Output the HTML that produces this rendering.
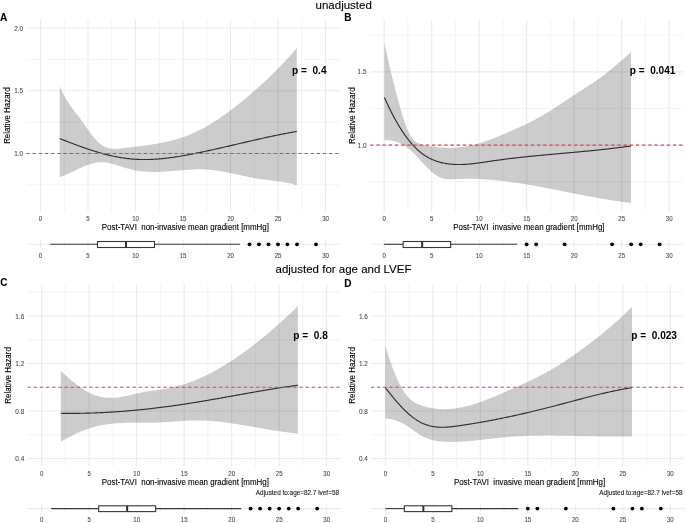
<!DOCTYPE html>
<html><head><meta charset="utf-8"><style>
html,body{margin:0;padding:0;background:#fff;overflow:hidden;}
svg{display:block;filter:blur(0.45px);}
text{font-family:"Liberation Sans", sans-serif;stroke-width:0.1px;}
</style></head><body>
<svg width="685" height="523" viewBox="0 0 685 523">
<rect width="685" height="523" fill="#fff"/>
<text x="343.70" y="8.60" font-size="11.5" fill="#000" stroke="#000" text-anchor="middle">unadjusted</text>
<text x="343.50" y="273.10" font-size="11.5" fill="#000" stroke="#000" text-anchor="middle">adjusted for age and LVEF</text>
<clipPath id="cA"><rect x="26.40" y="19.50" width="313.60" height="192.30"/></clipPath>
<g clip-path="url(#cA)"><line x1="26.40" x2="340.00" y1="184.80" y2="184.80" stroke="#ebebeb" stroke-width="0.60"/><line x1="26.40" x2="340.00" y1="122.10" y2="122.10" stroke="#ebebeb" stroke-width="0.60"/><line x1="26.40" x2="340.00" y1="59.40" y2="59.40" stroke="#ebebeb" stroke-width="0.60"/><line x1="64.25" x2="64.25" y1="19.50" y2="211.80" stroke="#ebebeb" stroke-width="0.60"/><line x1="111.75" x2="111.75" y1="19.50" y2="211.80" stroke="#ebebeb" stroke-width="0.60"/><line x1="159.25" x2="159.25" y1="19.50" y2="211.80" stroke="#ebebeb" stroke-width="0.60"/><line x1="206.75" x2="206.75" y1="19.50" y2="211.80" stroke="#ebebeb" stroke-width="0.60"/><line x1="254.25" x2="254.25" y1="19.50" y2="211.80" stroke="#ebebeb" stroke-width="0.60"/><line x1="301.75" x2="301.75" y1="19.50" y2="211.80" stroke="#ebebeb" stroke-width="0.60"/><line x1="26.40" x2="340.00" y1="153.45" y2="153.45" stroke="#ebebeb" stroke-width="1.10"/><line x1="26.40" x2="340.00" y1="90.75" y2="90.75" stroke="#ebebeb" stroke-width="1.10"/><line x1="26.40" x2="340.00" y1="28.05" y2="28.05" stroke="#ebebeb" stroke-width="1.10"/><line x1="40.50" x2="40.50" y1="19.50" y2="211.80" stroke="#ebebeb" stroke-width="1.10"/><line x1="88.00" x2="88.00" y1="19.50" y2="211.80" stroke="#ebebeb" stroke-width="1.10"/><line x1="135.50" x2="135.50" y1="19.50" y2="211.80" stroke="#ebebeb" stroke-width="1.10"/><line x1="183.00" x2="183.00" y1="19.50" y2="211.80" stroke="#ebebeb" stroke-width="1.10"/><line x1="230.50" x2="230.50" y1="19.50" y2="211.80" stroke="#ebebeb" stroke-width="1.10"/><line x1="278.00" x2="278.00" y1="19.50" y2="211.80" stroke="#ebebeb" stroke-width="1.10"/><line x1="325.50" x2="325.50" y1="19.50" y2="211.80" stroke="#ebebeb" stroke-width="1.10"/>
<path d="M59.70,86.29 L60.70,88.54 L61.70,90.69 L62.70,92.72 L63.70,94.67 L64.70,96.52 L65.70,98.29 L66.70,99.98 L67.70,101.60 L68.70,103.16 L69.70,104.67 L70.70,106.12 L71.70,107.54 L72.70,108.91 L73.70,110.26 L74.70,111.58 L75.70,112.89 L76.70,114.19 L77.70,115.49 L78.70,116.80 L79.70,118.11 L80.70,119.45 L81.70,120.80 L82.70,122.18 L83.70,123.58 L84.70,124.99 L85.70,126.40 L86.70,127.82 L87.70,129.23 L88.70,130.62 L89.70,132.00 L90.70,133.35 L91.70,134.68 L92.70,135.97 L93.70,137.22 L94.70,138.42 L95.70,139.57 L96.70,140.67 L97.70,141.70 L98.70,142.65 L99.70,143.54 L100.70,144.34 L101.70,145.06 L102.70,145.71 L103.70,146.29 L104.70,146.79 L105.70,147.24 L106.70,147.62 L107.70,147.94 L108.70,148.21 L109.70,148.43 L110.70,148.60 L111.70,148.73 L112.70,148.81 L113.70,148.86 L114.70,148.88 L115.70,148.87 L116.70,148.83 L117.70,148.76 L118.70,148.68 L119.70,148.58 L120.70,148.47 L121.70,148.35 L122.70,148.23 L123.70,148.10 L124.70,147.97 L125.70,147.85 L126.70,147.73 L127.70,147.60 L128.70,147.48 L129.70,147.36 L130.70,147.24 L131.70,147.12 L132.70,147.00 L133.70,146.88 L134.70,146.76 L135.70,146.64 L136.70,146.52 L137.70,146.40 L138.70,146.28 L139.70,146.15 L140.70,146.03 L141.70,145.90 L142.70,145.77 L143.70,145.64 L144.70,145.51 L145.70,145.38 L146.70,145.24 L147.70,145.10 L148.70,144.96 L149.70,144.82 L150.70,144.67 L151.70,144.52 L152.70,144.37 L153.70,144.21 L154.70,144.05 L155.70,143.88 L156.70,143.71 L157.70,143.54 L158.70,143.36 L159.70,143.18 L160.70,142.99 L161.70,142.80 L162.70,142.60 L163.70,142.40 L164.70,142.19 L165.70,141.97 L166.70,141.75 L167.70,141.53 L168.70,141.29 L169.70,141.06 L170.70,140.81 L171.70,140.56 L172.70,140.30 L173.70,140.03 L174.70,139.76 L175.70,139.48 L176.70,139.19 L177.70,138.89 L178.70,138.58 L179.70,138.27 L180.70,137.95 L181.70,137.62 L182.70,137.28 L183.70,136.93 L184.70,136.57 L185.70,136.21 L186.70,135.83 L187.70,135.45 L188.70,135.05 L189.70,134.65 L190.70,134.23 L191.70,133.81 L192.70,133.37 L193.70,132.92 L194.70,132.47 L195.70,132.00 L196.70,131.53 L197.70,131.04 L198.70,130.55 L199.70,130.04 L200.70,129.53 L201.70,129.01 L202.70,128.48 L203.70,127.94 L204.70,127.39 L205.70,126.83 L206.70,126.26 L207.70,125.68 L208.70,125.10 L209.70,124.51 L210.70,123.90 L211.70,123.29 L212.70,122.68 L213.70,122.05 L214.70,121.41 L215.70,120.77 L216.70,120.12 L217.70,119.46 L218.70,118.80 L219.70,118.13 L220.70,117.45 L221.70,116.76 L222.70,116.06 L223.70,115.36 L224.70,114.65 L225.70,113.94 L226.70,113.21 L227.70,112.48 L228.70,111.75 L229.70,111.00 L230.70,110.25 L231.70,109.50 L232.70,108.74 L233.70,107.97 L234.70,107.19 L235.70,106.41 L236.70,105.62 L237.70,104.83 L238.70,104.03 L239.70,103.23 L240.70,102.42 L241.70,101.61 L242.70,100.79 L243.70,99.96 L244.70,99.13 L245.70,98.30 L246.70,97.46 L247.70,96.61 L248.70,95.76 L249.70,94.91 L250.70,94.05 L251.70,93.18 L252.70,92.31 L253.70,91.44 L254.70,90.56 L255.70,89.68 L256.70,88.79 L257.70,87.90 L258.70,87.00 L259.70,86.10 L260.70,85.19 L261.70,84.28 L262.70,83.36 L263.70,82.44 L264.70,81.51 L265.70,80.57 L266.70,79.63 L267.70,78.68 L268.70,77.73 L269.70,76.77 L270.70,75.80 L271.70,74.83 L272.70,73.85 L273.70,72.86 L274.70,71.87 L275.70,70.87 L276.70,69.87 L277.70,68.86 L278.70,67.84 L279.70,66.81 L280.70,65.78 L281.70,64.74 L282.70,63.69 L283.70,62.63 L284.70,61.57 L285.70,60.50 L286.70,59.42 L287.70,58.34 L288.70,57.24 L289.70,56.14 L290.70,55.03 L291.70,53.91 L292.70,52.79 L293.70,51.65 L294.70,50.51 L295.70,49.36 L296.70,48.20 L296.80,48.08 L296.80,185.31 L296.70,185.27 L295.70,184.96 L294.70,184.65 L293.70,184.37 L292.70,184.09 L291.70,183.84 L290.70,183.59 L289.70,183.36 L288.70,183.13 L287.70,182.92 L286.70,182.72 L285.70,182.53 L284.70,182.35 L283.70,182.18 L282.70,182.02 L281.70,181.86 L280.70,181.71 L279.70,181.57 L278.70,181.43 L277.70,181.30 L276.70,181.17 L275.70,181.04 L274.70,180.92 L273.70,180.80 L272.70,180.68 L271.70,180.57 L270.70,180.45 L269.70,180.33 L268.70,180.22 L267.70,180.10 L266.70,179.98 L265.70,179.85 L264.70,179.73 L263.70,179.60 L262.70,179.46 L261.70,179.32 L260.70,179.17 L259.70,179.02 L258.70,178.86 L257.70,178.70 L256.70,178.53 L255.70,178.35 L254.70,178.17 L253.70,177.98 L252.70,177.79 L251.70,177.60 L250.70,177.40 L249.70,177.20 L248.70,176.99 L247.70,176.79 L246.70,176.57 L245.70,176.36 L244.70,176.15 L243.70,175.93 L242.70,175.71 L241.70,175.49 L240.70,175.27 L239.70,175.05 L238.70,174.83 L237.70,174.61 L236.70,174.39 L235.70,174.17 L234.70,173.95 L233.70,173.74 L232.70,173.52 L231.70,173.31 L230.70,173.10 L229.70,172.89 L228.70,172.68 L227.70,172.48 L226.70,172.28 L225.70,172.09 L224.70,171.90 L223.70,171.71 L222.70,171.53 L221.70,171.35 L220.70,171.18 L219.70,171.01 L218.70,170.86 L217.70,170.70 L216.70,170.56 L215.70,170.42 L214.70,170.28 L213.70,170.16 L212.70,170.04 L211.70,169.93 L210.70,169.83 L209.70,169.74 L208.70,169.66 L207.70,169.59 L206.70,169.52 L205.70,169.47 L204.70,169.43 L203.70,169.39 L202.70,169.36 L201.70,169.34 L200.70,169.33 L199.70,169.33 L198.70,169.33 L197.70,169.35 L196.70,169.36 L195.70,169.39 L194.70,169.42 L193.70,169.45 L192.70,169.50 L191.70,169.54 L190.70,169.59 L189.70,169.65 L188.70,169.71 L187.70,169.77 L186.70,169.84 L185.70,169.91 L184.70,169.98 L183.70,170.06 L182.70,170.14 L181.70,170.22 L180.70,170.30 L179.70,170.38 L178.70,170.47 L177.70,170.55 L176.70,170.64 L175.70,170.72 L174.70,170.81 L173.70,170.89 L172.70,170.97 L171.70,171.05 L170.70,171.13 L169.70,171.21 L168.70,171.29 L167.70,171.36 L166.70,171.43 L165.70,171.50 L164.70,171.56 L163.70,171.62 L162.70,171.68 L161.70,171.73 L160.70,171.77 L159.70,171.81 L158.70,171.85 L157.70,171.88 L156.70,171.90 L155.70,171.92 L154.70,171.93 L153.70,171.93 L152.70,171.93 L151.70,171.92 L150.70,171.90 L149.70,171.87 L148.70,171.84 L147.70,171.79 L146.70,171.74 L145.70,171.67 L144.70,171.60 L143.70,171.51 L142.70,171.42 L141.70,171.31 L140.70,171.19 L139.70,171.07 L138.70,170.93 L137.70,170.77 L136.70,170.61 L135.70,170.43 L134.70,170.24 L133.70,170.04 L132.70,169.82 L131.70,169.59 L130.70,169.35 L129.70,169.10 L128.70,168.84 L127.70,168.57 L126.70,168.29 L125.70,168.00 L124.70,167.71 L123.70,167.41 L122.70,167.10 L121.70,166.79 L120.70,166.47 L119.70,166.14 L118.70,165.82 L117.70,165.49 L116.70,165.16 L115.70,164.84 L114.70,164.53 L113.70,164.22 L112.70,163.93 L111.70,163.66 L110.70,163.40 L109.70,163.17 L108.70,162.95 L107.70,162.76 L106.70,162.60 L105.70,162.46 L104.70,162.35 L103.70,162.27 L102.70,162.22 L101.70,162.20 L100.70,162.21 L99.70,162.25 L98.70,162.33 L97.70,162.44 L96.70,162.58 L95.70,162.75 L94.70,162.94 L93.70,163.17 L92.70,163.42 L91.70,163.69 L90.70,163.98 L89.70,164.30 L88.70,164.63 L87.70,164.99 L86.70,165.36 L85.70,165.75 L84.70,166.15 L83.70,166.57 L82.70,167.00 L81.70,167.44 L80.70,167.88 L79.70,168.34 L78.70,168.80 L77.70,169.27 L76.70,169.74 L75.70,170.22 L74.70,170.69 L73.70,171.17 L72.70,171.64 L71.70,172.12 L70.70,172.58 L69.70,173.05 L68.70,173.50 L67.70,173.95 L66.70,174.39 L65.70,174.82 L64.70,175.23 L63.70,175.64 L62.70,176.03 L61.70,176.40 L60.70,176.75 L59.70,177.09 Z" fill="#000" fill-opacity="0.2" stroke="none"/>
<path d="M59.70,138.52 L60.70,138.92 L61.70,139.32 L62.70,139.71 L63.70,140.11 L64.70,140.50 L65.70,140.89 L66.70,141.28 L67.70,141.67 L68.70,142.05 L69.70,142.44 L70.70,142.82 L71.70,143.21 L72.70,143.58 L73.70,143.96 L74.70,144.34 L75.70,144.71 L76.70,145.08 L77.70,145.45 L78.70,145.82 L79.70,146.18 L80.70,146.54 L81.70,146.90 L82.70,147.25 L83.70,147.60 L84.70,147.95 L85.70,148.30 L86.70,148.64 L87.70,148.98 L88.70,149.31 L89.70,149.64 L90.70,149.97 L91.70,150.29 L92.70,150.61 L93.70,150.93 L94.70,151.24 L95.70,151.55 L96.70,151.85 L97.70,152.15 L98.70,152.44 L99.70,152.73 L100.70,153.02 L101.70,153.30 L102.70,153.57 L103.70,153.84 L104.70,154.11 L105.70,154.37 L106.70,154.62 L107.70,154.87 L108.70,155.11 L109.70,155.35 L110.70,155.59 L111.70,155.81 L112.70,156.03 L113.70,156.25 L114.70,156.46 L115.70,156.66 L116.70,156.86 L117.70,157.05 L118.70,157.23 L119.70,157.41 L120.70,157.58 L121.70,157.74 L122.70,157.90 L123.70,158.05 L124.70,158.19 L125.70,158.33 L126.70,158.46 L127.70,158.58 L128.70,158.69 L129.70,158.80 L130.70,158.90 L131.70,158.99 L132.70,159.07 L133.70,159.15 L134.70,159.22 L135.70,159.28 L136.70,159.34 L137.70,159.38 L138.70,159.43 L139.70,159.46 L140.70,159.49 L141.70,159.51 L142.70,159.52 L143.70,159.53 L144.70,159.53 L145.70,159.53 L146.70,159.52 L147.70,159.50 L148.70,159.48 L149.70,159.45 L150.70,159.41 L151.70,159.37 L152.70,159.32 L153.70,159.27 L154.70,159.22 L155.70,159.15 L156.70,159.09 L157.70,159.01 L158.70,158.94 L159.70,158.85 L160.70,158.76 L161.70,158.67 L162.70,158.58 L163.70,158.47 L164.70,158.37 L165.70,158.26 L166.70,158.14 L167.70,158.02 L168.70,157.90 L169.70,157.77 L170.70,157.64 L171.70,157.50 L172.70,157.37 L173.70,157.22 L174.70,157.08 L175.70,156.93 L176.70,156.77 L177.70,156.62 L178.70,156.46 L179.70,156.29 L180.70,156.13 L181.70,155.96 L182.70,155.79 L183.70,155.61 L184.70,155.44 L185.70,155.26 L186.70,155.07 L187.70,154.89 L188.70,154.70 L189.70,154.51 L190.70,154.32 L191.70,154.13 L192.70,153.93 L193.70,153.74 L194.70,153.54 L195.70,153.34 L196.70,153.14 L197.70,152.93 L198.70,152.73 L199.70,152.52 L200.70,152.32 L201.70,152.11 L202.70,151.90 L203.70,151.69 L204.70,151.47 L205.70,151.26 L206.70,151.04 L207.70,150.83 L208.70,150.61 L209.70,150.39 L210.70,150.17 L211.70,149.95 L212.70,149.73 L213.70,149.51 L214.70,149.29 L215.70,149.06 L216.70,148.84 L217.70,148.61 L218.70,148.38 L219.70,148.16 L220.70,147.93 L221.70,147.70 L222.70,147.47 L223.70,147.24 L224.70,147.01 L225.70,146.78 L226.70,146.55 L227.70,146.32 L228.70,146.09 L229.70,145.86 L230.70,145.63 L231.70,145.39 L232.70,145.16 L233.70,144.93 L234.70,144.69 L235.70,144.46 L236.70,144.23 L237.70,143.99 L238.70,143.76 L239.70,143.53 L240.70,143.29 L241.70,143.06 L242.70,142.83 L243.70,142.59 L244.70,142.36 L245.70,142.13 L246.70,141.90 L247.70,141.67 L248.70,141.43 L249.70,141.20 L250.70,140.97 L251.70,140.74 L252.70,140.51 L253.70,140.28 L254.70,140.05 L255.70,139.83 L256.70,139.60 L257.70,139.37 L258.70,139.15 L259.70,138.92 L260.70,138.70 L261.70,138.47 L262.70,138.25 L263.70,138.03 L264.70,137.81 L265.70,137.59 L266.70,137.37 L267.70,137.15 L268.70,136.93 L269.70,136.72 L270.70,136.50 L271.70,136.29 L272.70,136.08 L273.70,135.87 L274.70,135.66 L275.70,135.45 L276.70,135.24 L277.70,135.04 L278.70,134.83 L279.70,134.63 L280.70,134.43 L281.70,134.23 L282.70,134.03 L283.70,133.83 L284.70,133.64 L285.70,133.45 L286.70,133.25 L287.70,133.06 L288.70,132.88 L289.70,132.69 L290.70,132.51 L291.70,132.33 L292.70,132.14 L293.70,131.97 L294.70,131.79 L295.70,131.62 L296.70,131.44 L296.80,131.43" fill="none" stroke="#2e2e2e" stroke-width="1.15" stroke-linejoin="round"/>
<line x1="26.40" x2="340.00" y1="153.45" y2="153.45" stroke="#f23a46" stroke-width="1.1" stroke-dasharray="3.2 2.98" stroke-dashoffset="0.00"/>
</g>
<text transform="translate(23.20,156.10) scale(0.920,1.070)" font-size="7.00" fill="#4d4d4d" stroke="#4d4d4d" text-anchor="end">1.0</text>
<text transform="translate(23.20,93.40) scale(0.920,1.070)" font-size="7.00" fill="#4d4d4d" stroke="#4d4d4d" text-anchor="end">1.5</text>
<text transform="translate(23.20,30.70) scale(0.920,1.070)" font-size="7.00" fill="#4d4d4d" stroke="#4d4d4d" text-anchor="end">2.0</text>
<text transform="translate(40.50,221.10) scale(0.870,1.070)" font-size="7.00" fill="#4d4d4d" stroke="#4d4d4d" text-anchor="middle">0</text>
<text transform="translate(88.00,221.10) scale(0.870,1.070)" font-size="7.00" fill="#4d4d4d" stroke="#4d4d4d" text-anchor="middle">5</text>
<text transform="translate(135.50,221.10) scale(0.870,1.070)" font-size="7.00" fill="#4d4d4d" stroke="#4d4d4d" text-anchor="middle">10</text>
<text transform="translate(183.00,221.10) scale(0.870,1.070)" font-size="7.00" fill="#4d4d4d" stroke="#4d4d4d" text-anchor="middle">15</text>
<text transform="translate(230.50,221.10) scale(0.870,1.070)" font-size="7.00" fill="#4d4d4d" stroke="#4d4d4d" text-anchor="middle">20</text>
<text transform="translate(278.00,221.10) scale(0.870,1.070)" font-size="7.00" fill="#4d4d4d" stroke="#4d4d4d" text-anchor="middle">25</text>
<text transform="translate(325.50,221.10) scale(0.870,1.070)" font-size="7.00" fill="#4d4d4d" stroke="#4d4d4d" text-anchor="middle">30</text>
<text transform="translate(101.80,230.40) scale(0.995,1.080)" font-size="8.00" fill="#000" stroke="#000" text-anchor="start" style="white-space:pre">Post-TAVI  non-invasive mean gradient [mmHg]</text>
<text transform="translate(10.30,115.60) rotate(-90) scale(1.020,1.120)" font-size="7.80" fill="#000" stroke="#000" text-anchor="middle">Relative Hazard</text>
<text transform="translate(309.30,74.40) scale(1.050,1.080)" font-size="9.60" fill="#000" stroke="none" text-anchor="middle" font-weight="bold" style="white-space:pre">p =  0.4</text>
<text x="0.00" y="20.70" font-size="10" font-weight="bold" fill="#000" stroke="#000">A</text>
<g><line x1="26.40" x2="340.00" y1="244.30" y2="244.30" stroke="#ebebeb" stroke-width="1.1"/><line x1="40.50" x2="40.50" y1="239.70" y2="248.60" stroke="#ebebeb" stroke-width="1.10"/><line x1="64.25" x2="64.25" y1="239.70" y2="248.60" stroke="#ebebeb" stroke-width="0.60"/><line x1="88.00" x2="88.00" y1="239.70" y2="248.60" stroke="#ebebeb" stroke-width="1.10"/><line x1="111.75" x2="111.75" y1="239.70" y2="248.60" stroke="#ebebeb" stroke-width="0.60"/><line x1="135.50" x2="135.50" y1="239.70" y2="248.60" stroke="#ebebeb" stroke-width="1.10"/><line x1="159.25" x2="159.25" y1="239.70" y2="248.60" stroke="#ebebeb" stroke-width="0.60"/><line x1="183.00" x2="183.00" y1="239.70" y2="248.60" stroke="#ebebeb" stroke-width="1.10"/><line x1="206.75" x2="206.75" y1="239.70" y2="248.60" stroke="#ebebeb" stroke-width="0.60"/><line x1="230.50" x2="230.50" y1="239.70" y2="248.60" stroke="#ebebeb" stroke-width="1.10"/><line x1="254.25" x2="254.25" y1="239.70" y2="248.60" stroke="#ebebeb" stroke-width="0.60"/><line x1="278.00" x2="278.00" y1="239.70" y2="248.60" stroke="#ebebeb" stroke-width="1.10"/><line x1="301.75" x2="301.75" y1="239.70" y2="248.60" stroke="#ebebeb" stroke-width="0.60"/><line x1="325.50" x2="325.50" y1="239.70" y2="248.60" stroke="#ebebeb" stroke-width="1.10"/></g>
<line x1="50.00" x2="97.50" y1="244.30" y2="244.30" stroke="#383838" stroke-width="1.1"/>
<line x1="154.50" x2="240.00" y1="244.30" y2="244.30" stroke="#383838" stroke-width="1.1"/>
<rect x="97.50" y="241.50" width="57.00" height="6.00" fill="#fff" stroke="#383838" stroke-width="1.1"/>
<line x1="126.00" x2="126.00" y1="241.50" y2="247.50" stroke="#333" stroke-width="2"/>
<circle cx="249.50" cy="244.30" r="1.9" fill="#000"/>
<circle cx="259.00" cy="244.30" r="1.9" fill="#000"/>
<circle cx="268.50" cy="244.30" r="1.9" fill="#000"/>
<circle cx="278.00" cy="244.30" r="1.9" fill="#000"/>
<circle cx="287.50" cy="244.30" r="1.9" fill="#000"/>
<circle cx="297.00" cy="244.30" r="1.9" fill="#000"/>
<circle cx="316.00" cy="244.30" r="1.9" fill="#000"/>
<text transform="translate(40.50,257.80) scale(0.870,1.070)" font-size="7.00" fill="#4d4d4d" stroke="#4d4d4d" text-anchor="middle">0</text>
<text transform="translate(88.00,257.80) scale(0.870,1.070)" font-size="7.00" fill="#4d4d4d" stroke="#4d4d4d" text-anchor="middle">5</text>
<text transform="translate(135.50,257.80) scale(0.870,1.070)" font-size="7.00" fill="#4d4d4d" stroke="#4d4d4d" text-anchor="middle">10</text>
<text transform="translate(183.00,257.80) scale(0.870,1.070)" font-size="7.00" fill="#4d4d4d" stroke="#4d4d4d" text-anchor="middle">15</text>
<text transform="translate(230.50,257.80) scale(0.870,1.070)" font-size="7.00" fill="#4d4d4d" stroke="#4d4d4d" text-anchor="middle">20</text>
<text transform="translate(278.00,257.80) scale(0.870,1.070)" font-size="7.00" fill="#4d4d4d" stroke="#4d4d4d" text-anchor="middle">25</text>
<text transform="translate(325.50,257.80) scale(0.870,1.070)" font-size="7.00" fill="#4d4d4d" stroke="#4d4d4d" text-anchor="middle">30</text>
<clipPath id="cB"><rect x="370.20" y="19.60" width="313.40" height="192.30"/></clipPath>
<g clip-path="url(#cB)"><line x1="370.20" x2="683.60" y1="181.78" y2="181.78" stroke="#ebebeb" stroke-width="0.60"/><line x1="370.20" x2="683.60" y1="108.48" y2="108.48" stroke="#ebebeb" stroke-width="0.60"/><line x1="370.20" x2="683.60" y1="35.18" y2="35.18" stroke="#ebebeb" stroke-width="0.60"/><line x1="407.90" x2="407.90" y1="19.60" y2="211.90" stroke="#ebebeb" stroke-width="0.60"/><line x1="455.40" x2="455.40" y1="19.60" y2="211.90" stroke="#ebebeb" stroke-width="0.60"/><line x1="502.90" x2="502.90" y1="19.60" y2="211.90" stroke="#ebebeb" stroke-width="0.60"/><line x1="550.40" x2="550.40" y1="19.60" y2="211.90" stroke="#ebebeb" stroke-width="0.60"/><line x1="597.90" x2="597.90" y1="19.60" y2="211.90" stroke="#ebebeb" stroke-width="0.60"/><line x1="645.40" x2="645.40" y1="19.60" y2="211.90" stroke="#ebebeb" stroke-width="0.60"/><line x1="370.20" x2="683.60" y1="145.13" y2="145.13" stroke="#ebebeb" stroke-width="1.10"/><line x1="370.20" x2="683.60" y1="71.83" y2="71.83" stroke="#ebebeb" stroke-width="1.10"/><line x1="384.15" x2="384.15" y1="19.60" y2="211.90" stroke="#ebebeb" stroke-width="1.10"/><line x1="431.65" x2="431.65" y1="19.60" y2="211.90" stroke="#ebebeb" stroke-width="1.10"/><line x1="479.15" x2="479.15" y1="19.60" y2="211.90" stroke="#ebebeb" stroke-width="1.10"/><line x1="526.65" x2="526.65" y1="19.60" y2="211.90" stroke="#ebebeb" stroke-width="1.10"/><line x1="574.15" x2="574.15" y1="19.60" y2="211.90" stroke="#ebebeb" stroke-width="1.10"/><line x1="621.65" x2="621.65" y1="19.60" y2="211.90" stroke="#ebebeb" stroke-width="1.10"/><line x1="669.15" x2="669.15" y1="19.60" y2="211.90" stroke="#ebebeb" stroke-width="1.10"/>
<path d="M384.40,42.50 L385.40,47.32 L386.40,52.01 L387.40,56.59 L388.40,61.06 L389.40,65.43 L390.40,69.71 L391.40,73.90 L392.40,78.01 L393.40,82.06 L394.40,86.03 L395.40,89.93 L396.40,93.76 L397.40,97.51 L398.40,101.19 L399.40,104.80 L400.40,108.33 L401.40,111.79 L402.40,115.13 L403.40,118.36 L404.40,121.44 L405.40,124.35 L406.40,127.08 L407.40,129.59 L408.40,131.86 L409.40,133.89 L410.40,135.66 L411.40,137.20 L412.40,138.54 L413.40,139.68 L414.40,140.64 L415.40,141.46 L416.40,142.14 L417.40,142.70 L418.40,143.16 L419.40,143.55 L420.40,143.87 L421.40,144.16 L422.40,144.43 L423.40,144.68 L424.40,144.93 L425.40,145.16 L426.40,145.39 L427.40,145.61 L428.40,145.81 L429.40,146.01 L430.40,146.20 L431.40,146.37 L432.40,146.54 L433.40,146.70 L434.40,146.85 L435.40,146.99 L436.40,147.11 L437.40,147.23 L438.40,147.34 L439.40,147.44 L440.40,147.53 L441.40,147.61 L442.40,147.68 L443.40,147.74 L444.40,147.79 L445.40,147.83 L446.40,147.86 L447.40,147.88 L448.40,147.88 L449.40,147.88 L450.40,147.87 L451.40,147.85 L452.40,147.83 L453.40,147.79 L454.40,147.74 L455.40,147.68 L456.40,147.61 L457.40,147.53 L458.40,147.44 L459.40,147.34 L460.40,147.23 L461.40,147.11 L462.40,146.98 L463.40,146.84 L464.40,146.69 L465.40,146.53 L466.40,146.36 L467.40,146.18 L468.40,145.99 L469.40,145.79 L470.40,145.58 L471.40,145.36 L472.40,145.13 L473.40,144.89 L474.40,144.63 L475.40,144.37 L476.40,144.10 L477.40,143.82 L478.40,143.54 L479.40,143.24 L480.40,142.93 L481.40,142.62 L482.40,142.30 L483.40,141.97 L484.40,141.63 L485.40,141.29 L486.40,140.94 L487.40,140.58 L488.40,140.22 L489.40,139.85 L490.40,139.47 L491.40,139.09 L492.40,138.70 L493.40,138.31 L494.40,137.92 L495.40,137.52 L496.40,137.12 L497.40,136.71 L498.40,136.30 L499.40,135.88 L500.40,135.47 L501.40,135.05 L502.40,134.63 L503.40,134.20 L504.40,133.78 L505.40,133.35 L506.40,132.92 L507.40,132.49 L508.40,132.06 L509.40,131.63 L510.40,131.20 L511.40,130.76 L512.40,130.33 L513.40,129.89 L514.40,129.45 L515.40,129.01 L516.40,128.56 L517.40,128.12 L518.40,127.67 L519.40,127.21 L520.40,126.75 L521.40,126.29 L522.40,125.83 L523.40,125.36 L524.40,124.89 L525.40,124.42 L526.40,123.94 L527.40,123.45 L528.40,122.96 L529.40,122.47 L530.40,121.97 L531.40,121.46 L532.40,120.95 L533.40,120.43 L534.40,119.91 L535.40,119.38 L536.40,118.85 L537.40,118.31 L538.40,117.76 L539.40,117.20 L540.40,116.64 L541.40,116.07 L542.40,115.49 L543.40,114.91 L544.40,114.32 L545.40,113.72 L546.40,113.11 L547.40,112.50 L548.40,111.88 L549.40,111.26 L550.40,110.63 L551.40,109.99 L552.40,109.35 L553.40,108.71 L554.40,108.06 L555.40,107.41 L556.40,106.76 L557.40,106.10 L558.40,105.44 L559.40,104.78 L560.40,104.12 L561.40,103.46 L562.40,102.80 L563.40,102.13 L564.40,101.47 L565.40,100.80 L566.40,100.14 L567.40,99.48 L568.40,98.82 L569.40,98.16 L570.40,97.51 L571.40,96.85 L572.40,96.20 L573.40,95.56 L574.40,94.91 L575.40,94.27 L576.40,93.63 L577.40,92.99 L578.40,92.35 L579.40,91.71 L580.40,91.07 L581.40,90.43 L582.40,89.79 L583.40,89.15 L584.40,88.51 L585.40,87.86 L586.40,87.21 L587.40,86.56 L588.40,85.91 L589.40,85.25 L590.40,84.59 L591.40,83.92 L592.40,83.25 L593.40,82.58 L594.40,81.90 L595.40,81.21 L596.40,80.51 L597.40,79.81 L598.40,79.10 L599.40,78.39 L600.40,77.66 L601.40,76.93 L602.40,76.19 L603.40,75.44 L604.40,74.67 L605.40,73.90 L606.40,73.12 L607.40,72.34 L608.40,71.54 L609.40,70.73 L610.40,69.92 L611.40,69.10 L612.40,68.27 L613.40,67.44 L614.40,66.60 L615.40,65.75 L616.40,64.90 L617.40,64.05 L618.40,63.18 L619.40,62.32 L620.40,61.45 L621.40,60.58 L622.40,59.70 L623.40,58.82 L624.40,57.94 L625.40,57.06 L626.40,56.18 L627.40,55.29 L628.40,54.40 L629.40,53.52 L630.40,52.63 L631.00,52.10 L631.00,202.82 L630.40,202.75 L629.40,202.64 L628.40,202.53 L627.40,202.41 L626.40,202.29 L625.40,202.17 L624.40,202.05 L623.40,201.92 L622.40,201.79 L621.40,201.66 L620.40,201.53 L619.40,201.39 L618.40,201.26 L617.40,201.11 L616.40,200.97 L615.40,200.83 L614.40,200.68 L613.40,200.53 L612.40,200.38 L611.40,200.23 L610.40,200.07 L609.40,199.92 L608.40,199.76 L607.40,199.60 L606.40,199.43 L605.40,199.27 L604.40,199.10 L603.40,198.94 L602.40,198.77 L601.40,198.60 L600.40,198.43 L599.40,198.25 L598.40,198.08 L597.40,197.90 L596.40,197.72 L595.40,197.54 L594.40,197.36 L593.40,197.18 L592.40,197.00 L591.40,196.82 L590.40,196.63 L589.40,196.44 L588.40,196.26 L587.40,196.07 L586.40,195.88 L585.40,195.69 L584.40,195.50 L583.40,195.31 L582.40,195.11 L581.40,194.92 L580.40,194.73 L579.40,194.53 L578.40,194.34 L577.40,194.14 L576.40,193.95 L575.40,193.75 L574.40,193.55 L573.40,193.35 L572.40,193.16 L571.40,192.96 L570.40,192.76 L569.40,192.56 L568.40,192.36 L567.40,192.16 L566.40,191.97 L565.40,191.77 L564.40,191.57 L563.40,191.37 L562.40,191.17 L561.40,190.97 L560.40,190.77 L559.40,190.57 L558.40,190.37 L557.40,190.18 L556.40,189.98 L555.40,189.78 L554.40,189.58 L553.40,189.39 L552.40,189.19 L551.40,189.00 L550.40,188.80 L549.40,188.61 L548.40,188.41 L547.40,188.22 L546.40,188.03 L545.40,187.84 L544.40,187.65 L543.40,187.46 L542.40,187.27 L541.40,187.08 L540.40,186.89 L539.40,186.71 L538.40,186.52 L537.40,186.34 L536.40,186.16 L535.40,185.98 L534.40,185.80 L533.40,185.62 L532.40,185.44 L531.40,185.27 L530.40,185.09 L529.40,184.92 L528.40,184.75 L527.40,184.58 L526.40,184.41 L525.40,184.24 L524.40,184.08 L523.40,183.91 L522.40,183.75 L521.40,183.59 L520.40,183.43 L519.40,183.28 L518.40,183.12 L517.40,182.97 L516.40,182.82 L515.40,182.67 L514.40,182.53 L513.40,182.38 L512.40,182.24 L511.40,182.10 L510.40,181.97 L509.40,181.83 L508.40,181.70 L507.40,181.57 L506.40,181.44 L505.40,181.32 L504.40,181.19 L503.40,181.07 L502.40,180.96 L501.40,180.84 L500.40,180.73 L499.40,180.62 L498.40,180.51 L497.40,180.41 L496.40,180.31 L495.40,180.21 L494.40,180.11 L493.40,180.02 L492.40,179.93 L491.40,179.85 L490.40,179.76 L489.40,179.68 L488.40,179.61 L487.40,179.53 L486.40,179.46 L485.40,179.40 L484.40,179.33 L483.40,179.27 L482.40,179.22 L481.40,179.16 L480.40,179.11 L479.40,179.07 L478.40,179.03 L477.40,178.99 L476.40,178.95 L475.40,178.92 L474.40,178.89 L473.40,178.87 L472.40,178.85 L471.40,178.83 L470.40,178.82 L469.40,178.81 L468.40,178.81 L467.40,178.81 L466.40,178.81 L465.40,178.82 L464.40,178.84 L463.40,178.85 L462.40,178.87 L461.40,178.90 L460.40,178.93 L459.40,178.96 L458.40,179.00 L457.40,179.04 L456.40,179.09 L455.40,179.14 L454.40,179.19 L453.40,179.23 L452.40,179.26 L451.40,179.28 L450.40,179.28 L449.40,179.26 L448.40,179.21 L447.40,179.14 L446.40,179.04 L445.40,178.90 L444.40,178.72 L443.40,178.50 L442.40,178.24 L441.40,177.93 L440.40,177.56 L439.40,177.13 L438.40,176.65 L437.40,176.10 L436.40,175.49 L435.40,174.83 L434.40,174.10 L433.40,173.33 L432.40,172.51 L431.40,171.65 L430.40,170.75 L429.40,169.81 L428.40,168.85 L427.40,167.85 L426.40,166.83 L425.40,165.79 L424.40,164.73 L423.40,163.66 L422.40,162.58 L421.40,161.49 L420.40,160.40 L419.40,159.32 L418.40,158.24 L417.40,157.16 L416.40,156.11 L415.40,155.06 L414.40,154.04 L413.40,153.04 L412.40,152.06 L411.40,151.12 L410.40,150.21 L409.40,149.33 L408.40,148.50 L407.40,147.71 L406.40,146.96 L405.40,146.26 L404.40,145.61 L403.40,144.99 L402.40,144.42 L401.40,143.89 L400.40,143.39 L399.40,142.94 L398.40,142.53 L397.40,142.15 L396.40,141.82 L395.40,141.52 L394.40,141.25 L393.40,141.02 L392.40,140.83 L391.40,140.67 L390.40,140.54 L389.40,140.45 L388.40,140.38 L387.40,140.35 L386.40,140.35 L385.40,140.37 L384.40,140.43 Z" fill="#000" fill-opacity="0.2" stroke="none"/>
<path d="M384.40,97.56 L385.40,99.78 L386.40,101.97 L387.40,104.11 L388.40,106.21 L389.40,108.27 L390.40,110.29 L391.40,112.27 L392.40,114.21 L393.40,116.11 L394.40,117.97 L395.40,119.78 L396.40,121.56 L397.40,123.30 L398.40,124.99 L399.40,126.65 L400.40,128.26 L401.40,129.84 L402.40,131.37 L403.40,132.87 L404.40,134.32 L405.40,135.74 L406.40,137.11 L407.40,138.45 L408.40,139.74 L409.40,141.00 L410.40,142.21 L411.40,143.39 L412.40,144.53 L413.40,145.62 L414.40,146.68 L415.40,147.70 L416.40,148.67 L417.40,149.61 L418.40,150.51 L419.40,151.38 L420.40,152.20 L421.40,153.00 L422.40,153.75 L423.40,154.47 L424.40,155.16 L425.40,155.82 L426.40,156.44 L427.40,157.04 L428.40,157.60 L429.40,158.14 L430.40,158.64 L431.40,159.12 L432.40,159.58 L433.40,160.00 L434.40,160.41 L435.40,160.79 L436.40,161.14 L437.40,161.47 L438.40,161.78 L439.40,162.08 L440.40,162.35 L441.40,162.60 L442.40,162.83 L443.40,163.05 L444.40,163.25 L445.40,163.43 L446.40,163.60 L447.40,163.75 L448.40,163.89 L449.40,164.02 L450.40,164.13 L451.40,164.22 L452.40,164.30 L453.40,164.37 L454.40,164.43 L455.40,164.48 L456.40,164.51 L457.40,164.53 L458.40,164.54 L459.40,164.54 L460.40,164.53 L461.40,164.51 L462.40,164.48 L463.40,164.44 L464.40,164.40 L465.40,164.34 L466.40,164.28 L467.40,164.20 L468.40,164.12 L469.40,164.04 L470.40,163.94 L471.40,163.84 L472.40,163.74 L473.40,163.63 L474.40,163.51 L475.40,163.39 L476.40,163.26 L477.40,163.13 L478.40,163.00 L479.40,162.86 L480.40,162.72 L481.40,162.58 L482.40,162.44 L483.40,162.29 L484.40,162.14 L485.40,161.99 L486.40,161.84 L487.40,161.69 L488.40,161.54 L489.40,161.39 L490.40,161.24 L491.40,161.09 L492.40,160.94 L493.40,160.80 L494.40,160.65 L495.40,160.51 L496.40,160.37 L497.40,160.23 L498.40,160.09 L499.40,159.96 L500.40,159.82 L501.40,159.69 L502.40,159.56 L503.40,159.42 L504.40,159.30 L505.40,159.17 L506.40,159.04 L507.40,158.92 L508.40,158.79 L509.40,158.67 L510.40,158.55 L511.40,158.43 L512.40,158.31 L513.40,158.19 L514.40,158.07 L515.40,157.96 L516.40,157.84 L517.40,157.73 L518.40,157.62 L519.40,157.50 L520.40,157.39 L521.40,157.28 L522.40,157.18 L523.40,157.07 L524.40,156.96 L525.40,156.86 L526.40,156.75 L527.40,156.65 L528.40,156.54 L529.40,156.44 L530.40,156.34 L531.40,156.24 L532.40,156.14 L533.40,156.04 L534.40,155.94 L535.40,155.84 L536.40,155.74 L537.40,155.65 L538.40,155.55 L539.40,155.45 L540.40,155.36 L541.40,155.26 L542.40,155.17 L543.40,155.08 L544.40,154.98 L545.40,154.89 L546.40,154.80 L547.40,154.70 L548.40,154.61 L549.40,154.52 L550.40,154.43 L551.40,154.34 L552.40,154.25 L553.40,154.16 L554.40,154.07 L555.40,153.98 L556.40,153.89 L557.40,153.80 L558.40,153.71 L559.40,153.62 L560.40,153.53 L561.40,153.44 L562.40,153.35 L563.40,153.26 L564.40,153.17 L565.40,153.08 L566.40,152.99 L567.40,152.90 L568.40,152.81 L569.40,152.72 L570.40,152.63 L571.40,152.54 L572.40,152.45 L573.40,152.36 L574.40,152.27 L575.40,152.18 L576.40,152.09 L577.40,152.00 L578.40,151.90 L579.40,151.81 L580.40,151.72 L581.40,151.63 L582.40,151.53 L583.40,151.44 L584.40,151.34 L585.40,151.25 L586.40,151.15 L587.40,151.06 L588.40,150.96 L589.40,150.86 L590.40,150.76 L591.40,150.67 L592.40,150.57 L593.40,150.47 L594.40,150.37 L595.40,150.26 L596.40,150.16 L597.40,150.06 L598.40,149.95 L599.40,149.85 L600.40,149.74 L601.40,149.64 L602.40,149.53 L603.40,149.42 L604.40,149.31 L605.40,149.20 L606.40,149.09 L607.40,148.98 L608.40,148.87 L609.40,148.75 L610.40,148.64 L611.40,148.52 L612.40,148.40 L613.40,148.28 L614.40,148.16 L615.40,148.04 L616.40,147.92 L617.40,147.80 L618.40,147.67 L619.40,147.55 L620.40,147.42 L621.40,147.29 L622.40,147.16 L623.40,147.03 L624.40,146.90 L625.40,146.76 L626.40,146.63 L627.40,146.49 L628.40,146.35 L629.40,146.21 L630.40,146.07 L631.00,145.98" fill="none" stroke="#2e2e2e" stroke-width="1.15" stroke-linejoin="round"/>
<line x1="370.20" x2="683.60" y1="145.13" y2="145.13" stroke="#f23a46" stroke-width="1.1" stroke-dasharray="3.2 2.98" stroke-dashoffset="0.00"/>
</g>
<text transform="translate(366.50,147.78) scale(0.920,1.070)" font-size="7.00" fill="#4d4d4d" stroke="#4d4d4d" text-anchor="end">1.0</text>
<text transform="translate(366.50,74.48) scale(0.920,1.070)" font-size="7.00" fill="#4d4d4d" stroke="#4d4d4d" text-anchor="end">1.5</text>
<text transform="translate(384.15,221.10) scale(0.870,1.070)" font-size="7.00" fill="#4d4d4d" stroke="#4d4d4d" text-anchor="middle">0</text>
<text transform="translate(431.65,221.10) scale(0.870,1.070)" font-size="7.00" fill="#4d4d4d" stroke="#4d4d4d" text-anchor="middle">5</text>
<text transform="translate(479.15,221.10) scale(0.870,1.070)" font-size="7.00" fill="#4d4d4d" stroke="#4d4d4d" text-anchor="middle">10</text>
<text transform="translate(526.65,221.10) scale(0.870,1.070)" font-size="7.00" fill="#4d4d4d" stroke="#4d4d4d" text-anchor="middle">15</text>
<text transform="translate(574.15,221.10) scale(0.870,1.070)" font-size="7.00" fill="#4d4d4d" stroke="#4d4d4d" text-anchor="middle">20</text>
<text transform="translate(621.65,221.10) scale(0.870,1.070)" font-size="7.00" fill="#4d4d4d" stroke="#4d4d4d" text-anchor="middle">25</text>
<text transform="translate(669.15,221.10) scale(0.870,1.070)" font-size="7.00" fill="#4d4d4d" stroke="#4d4d4d" text-anchor="middle">30</text>
<text transform="translate(453.30,230.40) scale(0.995,1.080)" font-size="8.00" fill="#000" stroke="#000" text-anchor="start" style="white-space:pre">Post-TAVI  invasive mean gradient [mmHg]</text>
<text transform="translate(354.90,115.70) rotate(-90) scale(1.020,1.120)" font-size="7.80" fill="#000" stroke="#000" text-anchor="middle">Relative Hazard</text>
<text transform="translate(652.55,74.40) scale(1.050,1.080)" font-size="9.60" fill="#000" stroke="none" text-anchor="middle" font-weight="bold" style="white-space:pre">p =  0.041</text>
<text x="344.30" y="20.70" font-size="10" font-weight="bold" fill="#000" stroke="#000">B</text>
<g><line x1="370.20" x2="683.60" y1="244.30" y2="244.30" stroke="#ebebeb" stroke-width="1.1"/><line x1="384.15" x2="384.15" y1="239.70" y2="248.60" stroke="#ebebeb" stroke-width="1.10"/><line x1="407.90" x2="407.90" y1="239.70" y2="248.60" stroke="#ebebeb" stroke-width="0.60"/><line x1="431.65" x2="431.65" y1="239.70" y2="248.60" stroke="#ebebeb" stroke-width="1.10"/><line x1="455.40" x2="455.40" y1="239.70" y2="248.60" stroke="#ebebeb" stroke-width="0.60"/><line x1="479.15" x2="479.15" y1="239.70" y2="248.60" stroke="#ebebeb" stroke-width="1.10"/><line x1="502.90" x2="502.90" y1="239.70" y2="248.60" stroke="#ebebeb" stroke-width="0.60"/><line x1="526.65" x2="526.65" y1="239.70" y2="248.60" stroke="#ebebeb" stroke-width="1.10"/><line x1="550.40" x2="550.40" y1="239.70" y2="248.60" stroke="#ebebeb" stroke-width="0.60"/><line x1="574.15" x2="574.15" y1="239.70" y2="248.60" stroke="#ebebeb" stroke-width="1.10"/><line x1="597.90" x2="597.90" y1="239.70" y2="248.60" stroke="#ebebeb" stroke-width="0.60"/><line x1="621.65" x2="621.65" y1="239.70" y2="248.60" stroke="#ebebeb" stroke-width="1.10"/><line x1="645.40" x2="645.40" y1="239.70" y2="248.60" stroke="#ebebeb" stroke-width="0.60"/><line x1="669.15" x2="669.15" y1="239.70" y2="248.60" stroke="#ebebeb" stroke-width="1.10"/></g>
<line x1="384.15" x2="403.15" y1="244.30" y2="244.30" stroke="#383838" stroke-width="1.1"/>
<line x1="450.65" x2="517.15" y1="244.30" y2="244.30" stroke="#383838" stroke-width="1.1"/>
<rect x="403.15" y="241.50" width="47.50" height="6.00" fill="#fff" stroke="#383838" stroke-width="1.1"/>
<line x1="422.15" x2="422.15" y1="241.50" y2="247.50" stroke="#333" stroke-width="2"/>
<circle cx="526.65" cy="244.30" r="1.9" fill="#000"/>
<circle cx="536.15" cy="244.30" r="1.9" fill="#000"/>
<circle cx="564.65" cy="244.30" r="1.9" fill="#000"/>
<circle cx="612.15" cy="244.30" r="1.9" fill="#000"/>
<circle cx="631.15" cy="244.30" r="1.9" fill="#000"/>
<circle cx="640.65" cy="244.30" r="1.9" fill="#000"/>
<circle cx="659.65" cy="244.30" r="1.9" fill="#000"/>
<text transform="translate(384.15,257.80) scale(0.870,1.070)" font-size="7.00" fill="#4d4d4d" stroke="#4d4d4d" text-anchor="middle">0</text>
<text transform="translate(431.65,257.80) scale(0.870,1.070)" font-size="7.00" fill="#4d4d4d" stroke="#4d4d4d" text-anchor="middle">5</text>
<text transform="translate(479.15,257.80) scale(0.870,1.070)" font-size="7.00" fill="#4d4d4d" stroke="#4d4d4d" text-anchor="middle">10</text>
<text transform="translate(526.65,257.80) scale(0.870,1.070)" font-size="7.00" fill="#4d4d4d" stroke="#4d4d4d" text-anchor="middle">15</text>
<text transform="translate(574.15,257.80) scale(0.870,1.070)" font-size="7.00" fill="#4d4d4d" stroke="#4d4d4d" text-anchor="middle">20</text>
<text transform="translate(621.65,257.80) scale(0.870,1.070)" font-size="7.00" fill="#4d4d4d" stroke="#4d4d4d" text-anchor="middle">25</text>
<text transform="translate(669.15,257.80) scale(0.870,1.070)" font-size="7.00" fill="#4d4d4d" stroke="#4d4d4d" text-anchor="middle">30</text>
<clipPath id="cC"><rect x="27.50" y="284.00" width="313.20" height="182.80"/></clipPath>
<g clip-path="url(#cC)"><line x1="27.50" x2="340.70" y1="434.82" y2="434.82" stroke="#ebebeb" stroke-width="0.60"/><line x1="27.50" x2="340.70" y1="387.30" y2="387.30" stroke="#ebebeb" stroke-width="0.60"/><line x1="27.50" x2="340.70" y1="339.78" y2="339.78" stroke="#ebebeb" stroke-width="0.60"/><line x1="27.50" x2="340.70" y1="292.26" y2="292.26" stroke="#ebebeb" stroke-width="0.60"/><line x1="65.40" x2="65.40" y1="284.00" y2="466.80" stroke="#ebebeb" stroke-width="0.60"/><line x1="112.90" x2="112.90" y1="284.00" y2="466.80" stroke="#ebebeb" stroke-width="0.60"/><line x1="160.40" x2="160.40" y1="284.00" y2="466.80" stroke="#ebebeb" stroke-width="0.60"/><line x1="207.90" x2="207.90" y1="284.00" y2="466.80" stroke="#ebebeb" stroke-width="0.60"/><line x1="255.40" x2="255.40" y1="284.00" y2="466.80" stroke="#ebebeb" stroke-width="0.60"/><line x1="302.90" x2="302.90" y1="284.00" y2="466.80" stroke="#ebebeb" stroke-width="0.60"/><line x1="27.50" x2="340.70" y1="458.58" y2="458.58" stroke="#ebebeb" stroke-width="1.10"/><line x1="27.50" x2="340.70" y1="411.06" y2="411.06" stroke="#ebebeb" stroke-width="1.10"/><line x1="27.50" x2="340.70" y1="363.54" y2="363.54" stroke="#ebebeb" stroke-width="1.10"/><line x1="27.50" x2="340.70" y1="316.02" y2="316.02" stroke="#ebebeb" stroke-width="1.10"/><line x1="41.65" x2="41.65" y1="284.00" y2="466.80" stroke="#ebebeb" stroke-width="1.10"/><line x1="89.15" x2="89.15" y1="284.00" y2="466.80" stroke="#ebebeb" stroke-width="1.10"/><line x1="136.65" x2="136.65" y1="284.00" y2="466.80" stroke="#ebebeb" stroke-width="1.10"/><line x1="184.15" x2="184.15" y1="284.00" y2="466.80" stroke="#ebebeb" stroke-width="1.10"/><line x1="231.65" x2="231.65" y1="284.00" y2="466.80" stroke="#ebebeb" stroke-width="1.10"/><line x1="279.15" x2="279.15" y1="284.00" y2="466.80" stroke="#ebebeb" stroke-width="1.10"/><line x1="326.65" x2="326.65" y1="284.00" y2="466.80" stroke="#ebebeb" stroke-width="1.10"/>
<path d="M60.80,371.05 L61.80,371.96 L62.80,372.86 L63.80,373.76 L64.80,374.65 L65.80,375.53 L66.80,376.41 L67.80,377.28 L68.80,378.14 L69.80,378.99 L70.80,379.83 L71.80,380.66 L72.80,381.48 L73.80,382.29 L74.80,383.08 L75.80,383.86 L76.80,384.62 L77.80,385.37 L78.80,386.11 L79.80,386.82 L80.80,387.52 L81.80,388.21 L82.80,388.87 L83.80,389.51 L84.80,390.14 L85.80,390.74 L86.80,391.32 L87.80,391.88 L88.80,392.42 L89.80,392.93 L90.80,393.42 L91.80,393.89 L92.80,394.32 L93.80,394.73 L94.80,395.12 L95.80,395.48 L96.80,395.80 L97.80,396.11 L98.80,396.38 L99.80,396.63 L100.80,396.85 L101.80,397.05 L102.80,397.23 L103.80,397.38 L104.80,397.51 L105.80,397.62 L106.80,397.70 L107.80,397.77 L108.80,397.81 L109.80,397.84 L110.80,397.84 L111.80,397.83 L112.80,397.80 L113.80,397.75 L114.80,397.69 L115.80,397.61 L116.80,397.52 L117.80,397.41 L118.80,397.29 L119.80,397.15 L120.80,397.00 L121.80,396.84 L122.80,396.67 L123.80,396.49 L124.80,396.29 L125.80,396.09 L126.80,395.89 L127.80,395.67 L128.80,395.45 L129.80,395.23 L130.80,395.00 L131.80,394.76 L132.80,394.53 L133.80,394.29 L134.80,394.06 L135.80,393.82 L136.80,393.59 L137.80,393.36 L138.80,393.13 L139.80,392.90 L140.80,392.68 L141.80,392.47 L142.80,392.26 L143.80,392.06 L144.80,391.87 L145.80,391.69 L146.80,391.52 L147.80,391.36 L148.80,391.20 L149.80,391.04 L150.80,390.90 L151.80,390.75 L152.80,390.61 L153.80,390.47 L154.80,390.34 L155.80,390.20 L156.80,390.07 L157.80,389.93 L158.80,389.80 L159.80,389.66 L160.80,389.52 L161.80,389.37 L162.80,389.22 L163.80,389.07 L164.80,388.91 L165.80,388.74 L166.80,388.56 L167.80,388.38 L168.80,388.19 L169.80,387.99 L170.80,387.78 L171.80,387.56 L172.80,387.34 L173.80,387.10 L174.80,386.86 L175.80,386.61 L176.80,386.35 L177.80,386.08 L178.80,385.81 L179.80,385.53 L180.80,385.24 L181.80,384.94 L182.80,384.63 L183.80,384.31 L184.80,383.99 L185.80,383.66 L186.80,383.32 L187.80,382.97 L188.80,382.62 L189.80,382.26 L190.80,381.89 L191.80,381.51 L192.80,381.13 L193.80,380.73 L194.80,380.33 L195.80,379.93 L196.80,379.51 L197.80,379.09 L198.80,378.66 L199.80,378.22 L200.80,377.78 L201.80,377.33 L202.80,376.87 L203.80,376.40 L204.80,375.93 L205.80,375.45 L206.80,374.97 L207.80,374.47 L208.80,373.97 L209.80,373.46 L210.80,372.95 L211.80,372.43 L212.80,371.90 L213.80,371.36 L214.80,370.82 L215.80,370.27 L216.80,369.72 L217.80,369.16 L218.80,368.59 L219.80,368.01 L220.80,367.43 L221.80,366.84 L222.80,366.25 L223.80,365.65 L224.80,365.04 L225.80,364.43 L226.80,363.81 L227.80,363.19 L228.80,362.55 L229.80,361.92 L230.80,361.27 L231.80,360.62 L232.80,359.97 L233.80,359.30 L234.80,358.64 L235.80,357.96 L236.80,357.28 L237.80,356.60 L238.80,355.91 L239.80,355.21 L240.80,354.51 L241.80,353.80 L242.80,353.08 L243.80,352.36 L244.80,351.64 L245.80,350.91 L246.80,350.17 L247.80,349.43 L248.80,348.68 L249.80,347.93 L250.80,347.17 L251.80,346.41 L252.80,345.64 L253.80,344.87 L254.80,344.09 L255.80,343.31 L256.80,342.52 L257.80,341.72 L258.80,340.93 L259.80,340.12 L260.80,339.31 L261.80,338.50 L262.80,337.68 L263.80,336.86 L264.80,336.03 L265.80,335.20 L266.80,334.36 L267.80,333.52 L268.80,332.67 L269.80,331.82 L270.80,330.97 L271.80,330.11 L272.80,329.24 L273.80,328.37 L274.80,327.50 L275.80,326.62 L276.80,325.74 L277.80,324.85 L278.80,323.96 L279.80,323.07 L280.80,322.17 L281.80,321.27 L282.80,320.36 L283.80,319.45 L284.80,318.53 L285.80,317.61 L286.80,316.69 L287.80,315.76 L288.80,314.83 L289.80,313.90 L290.80,312.96 L291.80,312.02 L292.80,311.07 L293.80,310.13 L294.80,309.17 L295.80,308.22 L296.80,307.26 L297.80,306.29 L297.90,306.20 L297.90,433.59 L297.80,433.58 L296.80,433.48 L295.80,433.38 L294.80,433.28 L293.80,433.17 L292.80,433.06 L291.80,432.94 L290.80,432.82 L289.80,432.70 L288.80,432.58 L287.80,432.45 L286.80,432.32 L285.80,432.18 L284.80,432.05 L283.80,431.91 L282.80,431.77 L281.80,431.62 L280.80,431.48 L279.80,431.33 L278.80,431.18 L277.80,431.03 L276.80,430.87 L275.80,430.71 L274.80,430.56 L273.80,430.40 L272.80,430.23 L271.80,430.07 L270.80,429.91 L269.80,429.74 L268.80,429.57 L267.80,429.40 L266.80,429.23 L265.80,429.06 L264.80,428.89 L263.80,428.72 L262.80,428.55 L261.80,428.37 L260.80,428.20 L259.80,428.02 L258.80,427.85 L257.80,427.67 L256.80,427.50 L255.80,427.32 L254.80,427.15 L253.80,426.97 L252.80,426.80 L251.80,426.62 L250.80,426.45 L249.80,426.27 L248.80,426.10 L247.80,425.93 L246.80,425.76 L245.80,425.59 L244.80,425.42 L243.80,425.25 L242.80,425.08 L241.80,424.91 L240.80,424.75 L239.80,424.58 L238.80,424.42 L237.80,424.26 L236.80,424.10 L235.80,423.95 L234.80,423.79 L233.80,423.64 L232.80,423.49 L231.80,423.34 L230.80,423.19 L229.80,423.05 L228.80,422.90 L227.80,422.76 L226.80,422.63 L225.80,422.49 L224.80,422.36 L223.80,422.23 L222.80,422.11 L221.80,421.99 L220.80,421.87 L219.80,421.76 L218.80,421.64 L217.80,421.54 L216.80,421.44 L215.80,421.34 L214.80,421.24 L213.80,421.15 L212.80,421.07 L211.80,420.99 L210.80,420.91 L209.80,420.84 L208.80,420.77 L207.80,420.71 L206.80,420.66 L205.80,420.60 L204.80,420.56 L203.80,420.52 L202.80,420.49 L201.80,420.46 L200.80,420.44 L199.80,420.42 L198.80,420.41 L197.80,420.41 L196.80,420.41 L195.80,420.42 L194.80,420.44 L193.80,420.46 L192.80,420.48 L191.80,420.51 L190.80,420.54 L189.80,420.58 L188.80,420.62 L187.80,420.67 L186.80,420.72 L185.80,420.77 L184.80,420.82 L183.80,420.88 L182.80,420.94 L181.80,421.00 L180.80,421.07 L179.80,421.13 L178.80,421.20 L177.80,421.27 L176.80,421.34 L175.80,421.41 L174.80,421.48 L173.80,421.55 L172.80,421.63 L171.80,421.70 L170.80,421.77 L169.80,421.84 L168.80,421.91 L167.80,421.97 L166.80,422.04 L165.80,422.11 L164.80,422.17 L163.80,422.23 L162.80,422.29 L161.80,422.34 L160.80,422.39 L159.80,422.44 L158.80,422.49 L157.80,422.53 L156.80,422.57 L155.80,422.60 L154.80,422.63 L153.80,422.66 L152.80,422.68 L151.80,422.70 L150.80,422.71 L149.80,422.72 L148.80,422.73 L147.80,422.74 L146.80,422.74 L145.80,422.75 L144.80,422.75 L143.80,422.75 L142.80,422.74 L141.80,422.74 L140.80,422.74 L139.80,422.74 L138.80,422.73 L137.80,422.73 L136.80,422.73 L135.80,422.73 L134.80,422.73 L133.80,422.73 L132.80,422.73 L131.80,422.74 L130.80,422.74 L129.80,422.75 L128.80,422.77 L127.80,422.78 L126.80,422.80 L125.80,422.82 L124.80,422.85 L123.80,422.88 L122.80,422.92 L121.80,422.96 L120.80,423.00 L119.80,423.05 L118.80,423.11 L117.80,423.17 L116.80,423.24 L115.80,423.31 L114.80,423.39 L113.80,423.48 L112.80,423.58 L111.80,423.68 L110.80,423.79 L109.80,423.91 L108.80,424.04 L107.80,424.17 L106.80,424.32 L105.80,424.47 L104.80,424.64 L103.80,424.81 L102.80,424.99 L101.80,425.19 L100.80,425.39 L99.80,425.60 L98.80,425.83 L97.80,426.06 L96.80,426.31 L95.80,426.56 L94.80,426.83 L93.80,427.10 L92.80,427.39 L91.80,427.68 L90.80,427.99 L89.80,428.31 L88.80,428.63 L87.80,428.97 L86.80,429.31 L85.80,429.67 L84.80,430.03 L83.80,430.41 L82.80,430.80 L81.80,431.19 L80.80,431.60 L79.80,432.01 L78.80,432.44 L77.80,432.87 L76.80,433.32 L75.80,433.77 L74.80,434.23 L73.80,434.71 L72.80,435.19 L71.80,435.68 L70.80,436.19 L69.80,436.70 L68.80,437.22 L67.80,437.75 L66.80,438.29 L65.80,438.85 L64.80,439.41 L63.80,439.98 L62.80,440.55 L61.80,441.14 L60.80,441.74 Z" fill="#000" fill-opacity="0.2" stroke="none"/>
<path d="M60.80,413.28 L61.80,413.30 L62.80,413.31 L63.80,413.32 L64.80,413.34 L65.80,413.34 L66.80,413.35 L67.80,413.36 L68.80,413.36 L69.80,413.36 L70.80,413.36 L71.80,413.36 L72.80,413.36 L73.80,413.36 L74.80,413.35 L75.80,413.34 L76.80,413.34 L77.80,413.33 L78.80,413.31 L79.80,413.30 L80.80,413.28 L81.80,413.27 L82.80,413.25 L83.80,413.23 L84.80,413.21 L85.80,413.19 L86.80,413.16 L87.80,413.14 L88.80,413.11 L89.80,413.08 L90.80,413.05 L91.80,413.02 L92.80,412.98 L93.80,412.95 L94.80,412.91 L95.80,412.87 L96.80,412.83 L97.80,412.79 L98.80,412.75 L99.80,412.71 L100.80,412.66 L101.80,412.61 L102.80,412.56 L103.80,412.52 L104.80,412.46 L105.80,412.41 L106.80,412.36 L107.80,412.30 L108.80,412.24 L109.80,412.19 L110.80,412.13 L111.80,412.06 L112.80,412.00 L113.80,411.94 L114.80,411.87 L115.80,411.80 L116.80,411.74 L117.80,411.67 L118.80,411.59 L119.80,411.52 L120.80,411.45 L121.80,411.37 L122.80,411.30 L123.80,411.22 L124.80,411.14 L125.80,411.06 L126.80,410.98 L127.80,410.89 L128.80,410.81 L129.80,410.72 L130.80,410.63 L131.80,410.54 L132.80,410.45 L133.80,410.36 L134.80,410.27 L135.80,410.18 L136.80,410.08 L137.80,409.98 L138.80,409.89 L139.80,409.79 L140.80,409.69 L141.80,409.58 L142.80,409.48 L143.80,409.38 L144.80,409.27 L145.80,409.16 L146.80,409.06 L147.80,408.95 L148.80,408.84 L149.80,408.72 L150.80,408.61 L151.80,408.50 L152.80,408.38 L153.80,408.26 L154.80,408.15 L155.80,408.03 L156.80,407.91 L157.80,407.78 L158.80,407.66 L159.80,407.54 L160.80,407.41 L161.80,407.29 L162.80,407.16 L163.80,407.03 L164.80,406.90 L165.80,406.77 L166.80,406.64 L167.80,406.50 L168.80,406.37 L169.80,406.23 L170.80,406.09 L171.80,405.96 L172.80,405.82 L173.80,405.68 L174.80,405.54 L175.80,405.39 L176.80,405.25 L177.80,405.10 L178.80,404.96 L179.80,404.81 L180.80,404.66 L181.80,404.51 L182.80,404.36 L183.80,404.21 L184.80,404.06 L185.80,403.91 L186.80,403.75 L187.80,403.60 L188.80,403.44 L189.80,403.28 L190.80,403.12 L191.80,402.96 L192.80,402.80 L193.80,402.64 L194.80,402.48 L195.80,402.32 L196.80,402.15 L197.80,401.99 L198.80,401.83 L199.80,401.66 L200.80,401.49 L201.80,401.33 L202.80,401.16 L203.80,400.99 L204.80,400.82 L205.80,400.65 L206.80,400.48 L207.80,400.31 L208.80,400.14 L209.80,399.96 L210.80,399.79 L211.80,399.62 L212.80,399.44 L213.80,399.27 L214.80,399.09 L215.80,398.92 L216.80,398.74 L217.80,398.57 L218.80,398.39 L219.80,398.21 L220.80,398.04 L221.80,397.86 L222.80,397.68 L223.80,397.50 L224.80,397.33 L225.80,397.15 L226.80,396.97 L227.80,396.79 L228.80,396.61 L229.80,396.43 L230.80,396.25 L231.80,396.07 L232.80,395.89 L233.80,395.71 L234.80,395.53 L235.80,395.35 L236.80,395.17 L237.80,394.99 L238.80,394.81 L239.80,394.63 L240.80,394.46 L241.80,394.28 L242.80,394.10 L243.80,393.92 L244.80,393.74 L245.80,393.56 L246.80,393.38 L247.80,393.20 L248.80,393.02 L249.80,392.85 L250.80,392.67 L251.80,392.49 L252.80,392.31 L253.80,392.14 L254.80,391.96 L255.80,391.79 L256.80,391.61 L257.80,391.44 L258.80,391.26 L259.80,391.09 L260.80,390.92 L261.80,390.74 L262.80,390.57 L263.80,390.40 L264.80,390.23 L265.80,390.06 L266.80,389.90 L267.80,389.73 L268.80,389.56 L269.80,389.40 L270.80,389.23 L271.80,389.07 L272.80,388.91 L273.80,388.75 L274.80,388.59 L275.80,388.43 L276.80,388.27 L277.80,388.11 L278.80,387.96 L279.80,387.80 L280.80,387.65 L281.80,387.50 L282.80,387.35 L283.80,387.20 L284.80,387.05 L285.80,386.90 L286.80,386.76 L287.80,386.62 L288.80,386.48 L289.80,386.34 L290.80,386.20 L291.80,386.06 L292.80,385.92 L293.80,385.79 L294.80,385.66 L295.80,385.53 L296.80,385.40 L297.80,385.27 L297.90,385.26" fill="none" stroke="#2e2e2e" stroke-width="1.15" stroke-linejoin="round"/>
<line x1="27.50" x2="340.70" y1="387.30" y2="387.30" stroke="#f23a46" stroke-width="1.1" stroke-dasharray="3.2 2.98" stroke-dashoffset="0.00"/>
</g>
<text transform="translate(24.30,461.23) scale(0.920,1.070)" font-size="7.00" fill="#4d4d4d" stroke="#4d4d4d" text-anchor="end">0.4</text>
<text transform="translate(24.30,413.71) scale(0.920,1.070)" font-size="7.00" fill="#4d4d4d" stroke="#4d4d4d" text-anchor="end">0.8</text>
<text transform="translate(24.30,366.19) scale(0.920,1.070)" font-size="7.00" fill="#4d4d4d" stroke="#4d4d4d" text-anchor="end">1.2</text>
<text transform="translate(24.30,318.67) scale(0.920,1.070)" font-size="7.00" fill="#4d4d4d" stroke="#4d4d4d" text-anchor="end">1.6</text>
<text transform="translate(41.65,476.20) scale(0.870,1.070)" font-size="7.00" fill="#4d4d4d" stroke="#4d4d4d" text-anchor="middle">0</text>
<text transform="translate(89.15,476.20) scale(0.870,1.070)" font-size="7.00" fill="#4d4d4d" stroke="#4d4d4d" text-anchor="middle">5</text>
<text transform="translate(136.65,476.20) scale(0.870,1.070)" font-size="7.00" fill="#4d4d4d" stroke="#4d4d4d" text-anchor="middle">10</text>
<text transform="translate(184.15,476.20) scale(0.870,1.070)" font-size="7.00" fill="#4d4d4d" stroke="#4d4d4d" text-anchor="middle">15</text>
<text transform="translate(231.65,476.20) scale(0.870,1.070)" font-size="7.00" fill="#4d4d4d" stroke="#4d4d4d" text-anchor="middle">20</text>
<text transform="translate(279.15,476.20) scale(0.870,1.070)" font-size="7.00" fill="#4d4d4d" stroke="#4d4d4d" text-anchor="middle">25</text>
<text transform="translate(326.65,476.20) scale(0.870,1.070)" font-size="7.00" fill="#4d4d4d" stroke="#4d4d4d" text-anchor="middle">30</text>
<text transform="translate(101.80,485.10) scale(0.995,1.080)" font-size="8.00" fill="#000" stroke="#000" text-anchor="start" style="white-space:pre">Post-TAVI  non-invasive mean gradient [mmHg]</text>
<text transform="translate(11.30,375.40) rotate(-90) scale(1.020,1.120)" font-size="7.80" fill="#000" stroke="#000" text-anchor="middle">Relative Hazard</text>
<text transform="translate(310.55,339.10) scale(1.050,1.080)" font-size="9.60" fill="#000" stroke="none" text-anchor="middle" font-weight="bold" style="white-space:pre">p =  0.8</text>
<text x="0.30" y="286.30" font-size="10" font-weight="bold" fill="#000" stroke="#000">C</text>
<g><line x1="27.50" x2="340.70" y1="508.60" y2="508.60" stroke="#ebebeb" stroke-width="1.1"/><line x1="41.65" x2="41.65" y1="503.80" y2="513.40" stroke="#ebebeb" stroke-width="1.10"/><line x1="65.40" x2="65.40" y1="503.80" y2="513.40" stroke="#ebebeb" stroke-width="0.60"/><line x1="89.15" x2="89.15" y1="503.80" y2="513.40" stroke="#ebebeb" stroke-width="1.10"/><line x1="112.90" x2="112.90" y1="503.80" y2="513.40" stroke="#ebebeb" stroke-width="0.60"/><line x1="136.65" x2="136.65" y1="503.80" y2="513.40" stroke="#ebebeb" stroke-width="1.10"/><line x1="160.40" x2="160.40" y1="503.80" y2="513.40" stroke="#ebebeb" stroke-width="0.60"/><line x1="184.15" x2="184.15" y1="503.80" y2="513.40" stroke="#ebebeb" stroke-width="1.10"/><line x1="207.90" x2="207.90" y1="503.80" y2="513.40" stroke="#ebebeb" stroke-width="0.60"/><line x1="231.65" x2="231.65" y1="503.80" y2="513.40" stroke="#ebebeb" stroke-width="1.10"/><line x1="255.40" x2="255.40" y1="503.80" y2="513.40" stroke="#ebebeb" stroke-width="0.60"/><line x1="279.15" x2="279.15" y1="503.80" y2="513.40" stroke="#ebebeb" stroke-width="1.10"/><line x1="302.90" x2="302.90" y1="503.80" y2="513.40" stroke="#ebebeb" stroke-width="0.60"/><line x1="326.65" x2="326.65" y1="503.80" y2="513.40" stroke="#ebebeb" stroke-width="1.10"/></g>
<line x1="51.15" x2="98.65" y1="508.60" y2="508.60" stroke="#383838" stroke-width="1.1"/>
<line x1="155.65" x2="241.15" y1="508.60" y2="508.60" stroke="#383838" stroke-width="1.1"/>
<rect x="98.65" y="505.80" width="57.00" height="5.80" fill="#fff" stroke="#383838" stroke-width="1.1"/>
<line x1="127.15" x2="127.15" y1="505.80" y2="511.60" stroke="#333" stroke-width="2"/>
<circle cx="250.65" cy="508.60" r="1.9" fill="#000"/>
<circle cx="260.15" cy="508.60" r="1.9" fill="#000"/>
<circle cx="269.65" cy="508.60" r="1.9" fill="#000"/>
<circle cx="279.15" cy="508.60" r="1.9" fill="#000"/>
<circle cx="288.65" cy="508.60" r="1.9" fill="#000"/>
<circle cx="298.15" cy="508.60" r="1.9" fill="#000"/>
<circle cx="317.15" cy="508.60" r="1.9" fill="#000"/>
<text transform="translate(41.65,522.30) scale(0.870,1.070)" font-size="7.00" fill="#4d4d4d" stroke="#4d4d4d" text-anchor="middle">0</text>
<text transform="translate(89.15,522.30) scale(0.870,1.070)" font-size="7.00" fill="#4d4d4d" stroke="#4d4d4d" text-anchor="middle">5</text>
<text transform="translate(136.65,522.30) scale(0.870,1.070)" font-size="7.00" fill="#4d4d4d" stroke="#4d4d4d" text-anchor="middle">10</text>
<text transform="translate(184.15,522.30) scale(0.870,1.070)" font-size="7.00" fill="#4d4d4d" stroke="#4d4d4d" text-anchor="middle">15</text>
<text transform="translate(231.65,522.30) scale(0.870,1.070)" font-size="7.00" fill="#4d4d4d" stroke="#4d4d4d" text-anchor="middle">20</text>
<text transform="translate(279.15,522.30) scale(0.870,1.070)" font-size="7.00" fill="#4d4d4d" stroke="#4d4d4d" text-anchor="middle">25</text>
<text transform="translate(326.65,522.30) scale(0.870,1.070)" font-size="7.00" fill="#4d4d4d" stroke="#4d4d4d" text-anchor="middle">30</text>
<text x="339.00" y="495.40" font-size="6.4" fill="#1a1a1a" stroke="#1a1a1a" text-anchor="end">Adjusted to:age=82.7 lvef=58</text>
<clipPath id="cD"><rect x="370.80" y="283.80" width="313.90" height="183.00"/></clipPath>
<g clip-path="url(#cD)"><line x1="370.80" x2="684.70" y1="434.82" y2="434.82" stroke="#ebebeb" stroke-width="0.60"/><line x1="370.80" x2="684.70" y1="387.30" y2="387.30" stroke="#ebebeb" stroke-width="0.60"/><line x1="370.80" x2="684.70" y1="339.78" y2="339.78" stroke="#ebebeb" stroke-width="0.60"/><line x1="370.80" x2="684.70" y1="292.26" y2="292.26" stroke="#ebebeb" stroke-width="0.60"/><line x1="409.10" x2="409.10" y1="283.80" y2="466.80" stroke="#ebebeb" stroke-width="0.60"/><line x1="456.60" x2="456.60" y1="283.80" y2="466.80" stroke="#ebebeb" stroke-width="0.60"/><line x1="504.10" x2="504.10" y1="283.80" y2="466.80" stroke="#ebebeb" stroke-width="0.60"/><line x1="551.60" x2="551.60" y1="283.80" y2="466.80" stroke="#ebebeb" stroke-width="0.60"/><line x1="599.10" x2="599.10" y1="283.80" y2="466.80" stroke="#ebebeb" stroke-width="0.60"/><line x1="646.60" x2="646.60" y1="283.80" y2="466.80" stroke="#ebebeb" stroke-width="0.60"/><line x1="370.80" x2="684.70" y1="458.58" y2="458.58" stroke="#ebebeb" stroke-width="1.10"/><line x1="370.80" x2="684.70" y1="411.06" y2="411.06" stroke="#ebebeb" stroke-width="1.10"/><line x1="370.80" x2="684.70" y1="363.54" y2="363.54" stroke="#ebebeb" stroke-width="1.10"/><line x1="370.80" x2="684.70" y1="316.02" y2="316.02" stroke="#ebebeb" stroke-width="1.10"/><line x1="385.35" x2="385.35" y1="283.80" y2="466.80" stroke="#ebebeb" stroke-width="1.10"/><line x1="432.85" x2="432.85" y1="283.80" y2="466.80" stroke="#ebebeb" stroke-width="1.10"/><line x1="480.35" x2="480.35" y1="283.80" y2="466.80" stroke="#ebebeb" stroke-width="1.10"/><line x1="527.85" x2="527.85" y1="283.80" y2="466.80" stroke="#ebebeb" stroke-width="1.10"/><line x1="575.35" x2="575.35" y1="283.80" y2="466.80" stroke="#ebebeb" stroke-width="1.10"/><line x1="622.85" x2="622.85" y1="283.80" y2="466.80" stroke="#ebebeb" stroke-width="1.10"/><line x1="670.35" x2="670.35" y1="283.80" y2="466.80" stroke="#ebebeb" stroke-width="1.10"/>
<path d="M385.30,345.50 L386.30,348.94 L387.30,352.25 L388.30,355.45 L389.30,358.54 L390.30,361.51 L391.30,364.37 L392.30,367.12 L393.30,369.76 L394.30,372.30 L395.30,374.73 L396.30,377.05 L397.30,379.27 L398.30,381.39 L399.30,383.41 L400.30,385.33 L401.30,387.15 L402.30,388.88 L403.30,390.50 L404.30,392.03 L405.30,393.47 L406.30,394.81 L407.30,396.05 L408.30,397.20 L409.30,398.25 L410.30,399.21 L411.30,400.07 L412.30,400.85 L413.30,401.56 L414.30,402.19 L415.30,402.77 L416.30,403.29 L417.30,403.76 L418.30,404.20 L419.30,404.60 L420.30,404.98 L421.30,405.34 L422.30,405.69 L423.30,406.01 L424.30,406.32 L425.30,406.62 L426.30,406.89 L427.30,407.15 L428.30,407.39 L429.30,407.62 L430.30,407.83 L431.30,408.02 L432.30,408.20 L433.30,408.36 L434.30,408.51 L435.30,408.64 L436.30,408.76 L437.30,408.86 L438.30,408.95 L439.30,409.02 L440.30,409.08 L441.30,409.12 L442.30,409.16 L443.30,409.17 L444.30,409.18 L445.30,409.17 L446.30,409.14 L447.30,409.11 L448.30,409.06 L449.30,409.00 L450.30,408.93 L451.30,408.85 L452.30,408.75 L453.30,408.64 L454.30,408.52 L455.30,408.39 L456.30,408.25 L457.30,408.10 L458.30,407.93 L459.30,407.76 L460.30,407.58 L461.30,407.38 L462.30,407.18 L463.30,406.97 L464.30,406.74 L465.30,406.51 L466.30,406.27 L467.30,406.02 L468.30,405.76 L469.30,405.49 L470.30,405.22 L471.30,404.93 L472.30,404.64 L473.30,404.34 L474.30,404.04 L475.30,403.72 L476.30,403.40 L477.30,403.07 L478.30,402.74 L479.30,402.40 L480.30,402.05 L481.30,401.70 L482.30,401.34 L483.30,400.97 L484.30,400.60 L485.30,400.23 L486.30,399.85 L487.30,399.46 L488.30,399.07 L489.30,398.67 L490.30,398.27 L491.30,397.87 L492.30,397.46 L493.30,397.05 L494.30,396.63 L495.30,396.22 L496.30,395.79 L497.30,395.37 L498.30,394.94 L499.30,394.51 L500.30,394.08 L501.30,393.65 L502.30,393.21 L503.30,392.77 L504.30,392.33 L505.30,391.89 L506.30,391.45 L507.30,391.01 L508.30,390.56 L509.30,390.12 L510.30,389.67 L511.30,389.23 L512.30,388.78 L513.30,388.34 L514.30,387.89 L515.30,387.44 L516.30,387.00 L517.30,386.55 L518.30,386.10 L519.30,385.65 L520.30,385.19 L521.30,384.74 L522.30,384.29 L523.30,383.83 L524.30,383.37 L525.30,382.91 L526.30,382.44 L527.30,381.98 L528.30,381.51 L529.30,381.03 L530.30,380.56 L531.30,380.08 L532.30,379.60 L533.30,379.11 L534.30,378.62 L535.30,378.13 L536.30,377.63 L537.30,377.13 L538.30,376.62 L539.30,376.11 L540.30,375.59 L541.30,375.07 L542.30,374.55 L543.30,374.02 L544.30,373.48 L545.30,372.94 L546.30,372.39 L547.30,371.83 L548.30,371.27 L549.30,370.71 L550.30,370.13 L551.30,369.55 L552.30,368.97 L553.30,368.38 L554.30,367.78 L555.30,367.18 L556.30,366.57 L557.30,365.95 L558.30,365.33 L559.30,364.71 L560.30,364.08 L561.30,363.44 L562.30,362.80 L563.30,362.15 L564.30,361.50 L565.30,360.84 L566.30,360.18 L567.30,359.52 L568.30,358.85 L569.30,358.18 L570.30,357.50 L571.30,356.81 L572.30,356.13 L573.30,355.44 L574.30,354.74 L575.30,354.04 L576.30,353.34 L577.30,352.64 L578.30,351.93 L579.30,351.21 L580.30,350.50 L581.30,349.77 L582.30,349.05 L583.30,348.32 L584.30,347.59 L585.30,346.85 L586.30,346.11 L587.30,345.36 L588.30,344.62 L589.30,343.86 L590.30,343.10 L591.30,342.34 L592.30,341.57 L593.30,340.80 L594.30,340.03 L595.30,339.24 L596.30,338.46 L597.30,337.67 L598.30,336.87 L599.30,336.07 L600.30,335.27 L601.30,334.46 L602.30,333.64 L603.30,332.82 L604.30,332.00 L605.30,331.17 L606.30,330.33 L607.30,329.49 L608.30,328.64 L609.30,327.79 L610.30,326.93 L611.30,326.07 L612.30,325.20 L613.30,324.32 L614.30,323.44 L615.30,322.56 L616.30,321.67 L617.30,320.77 L618.30,319.86 L619.30,318.95 L620.30,318.04 L621.30,317.12 L622.30,316.19 L623.30,315.25 L624.30,314.31 L625.30,313.37 L626.30,312.41 L627.30,311.45 L628.30,310.49 L629.30,309.51 L630.30,308.53 L631.30,307.55 L632.00,306.85 L632.00,436.39 L631.30,436.41 L630.30,436.43 L629.30,436.45 L628.30,436.47 L627.30,436.49 L626.30,436.50 L625.30,436.51 L624.30,436.52 L623.30,436.54 L622.30,436.54 L621.30,436.55 L620.30,436.56 L619.30,436.56 L618.30,436.56 L617.30,436.57 L616.30,436.57 L615.30,436.57 L614.30,436.56 L613.30,436.56 L612.30,436.56 L611.30,436.55 L610.30,436.54 L609.30,436.54 L608.30,436.53 L607.30,436.52 L606.30,436.51 L605.30,436.50 L604.30,436.48 L603.30,436.47 L602.30,436.46 L601.30,436.44 L600.30,436.43 L599.30,436.41 L598.30,436.40 L597.30,436.38 L596.30,436.36 L595.30,436.34 L594.30,436.32 L593.30,436.31 L592.30,436.29 L591.30,436.27 L590.30,436.25 L589.30,436.23 L588.30,436.21 L587.30,436.18 L586.30,436.16 L585.30,436.14 L584.30,436.12 L583.30,436.10 L582.30,436.08 L581.30,436.06 L580.30,436.04 L579.30,436.01 L578.30,435.99 L577.30,435.97 L576.30,435.95 L575.30,435.93 L574.30,435.91 L573.30,435.89 L572.30,435.87 L571.30,435.85 L570.30,435.83 L569.30,435.82 L568.30,435.80 L567.30,435.78 L566.30,435.76 L565.30,435.75 L564.30,435.73 L563.30,435.72 L562.30,435.70 L561.30,435.69 L560.30,435.68 L559.30,435.66 L558.30,435.65 L557.30,435.64 L556.30,435.63 L555.30,435.62 L554.30,435.62 L553.30,435.61 L552.30,435.61 L551.30,435.60 L550.30,435.60 L549.30,435.60 L548.30,435.60 L547.30,435.60 L546.30,435.60 L545.30,435.60 L544.30,435.61 L543.30,435.61 L542.30,435.62 L541.30,435.63 L540.30,435.64 L539.30,435.65 L538.30,435.67 L537.30,435.68 L536.30,435.70 L535.30,435.72 L534.30,435.74 L533.30,435.76 L532.30,435.78 L531.30,435.81 L530.30,435.84 L529.30,435.87 L528.30,435.90 L527.30,435.93 L526.30,435.97 L525.30,436.00 L524.30,436.04 L523.30,436.09 L522.30,436.13 L521.30,436.18 L520.30,436.23 L519.30,436.28 L518.30,436.33 L517.30,436.38 L516.30,436.44 L515.30,436.50 L514.30,436.57 L513.30,436.63 L512.30,436.70 L511.30,436.77 L510.30,436.84 L509.30,436.92 L508.30,437.00 L507.30,437.08 L506.30,437.16 L505.30,437.25 L504.30,437.34 L503.30,437.43 L502.30,437.52 L501.30,437.62 L500.30,437.72 L499.30,437.82 L498.30,437.92 L497.30,438.03 L496.30,438.13 L495.30,438.24 L494.30,438.35 L493.30,438.46 L492.30,438.57 L491.30,438.68 L490.30,438.79 L489.30,438.90 L488.30,439.02 L487.30,439.13 L486.30,439.24 L485.30,439.35 L484.30,439.47 L483.30,439.58 L482.30,439.69 L481.30,439.80 L480.30,439.91 L479.30,440.01 L478.30,440.12 L477.30,440.22 L476.30,440.33 L475.30,440.43 L474.30,440.53 L473.30,440.63 L472.30,440.72 L471.30,440.81 L470.30,440.90 L469.30,440.99 L468.30,441.08 L467.30,441.16 L466.30,441.24 L465.30,441.31 L464.30,441.38 L463.30,441.45 L462.30,441.51 L461.30,441.57 L460.30,441.63 L459.30,441.68 L458.30,441.73 L457.30,441.77 L456.30,441.81 L455.30,441.84 L454.30,441.87 L453.30,441.89 L452.30,441.91 L451.30,441.92 L450.30,441.93 L449.30,441.92 L448.30,441.91 L447.30,441.89 L446.30,441.87 L445.30,441.83 L444.30,441.78 L443.30,441.71 L442.30,441.64 L441.30,441.55 L440.30,441.45 L439.30,441.33 L438.30,441.19 L437.30,441.04 L436.30,440.87 L435.30,440.68 L434.30,440.47 L433.30,440.24 L432.30,439.99 L431.30,439.72 L430.30,439.42 L429.30,439.10 L428.30,438.76 L427.30,438.39 L426.30,437.99 L425.30,437.57 L424.30,437.12 L423.30,436.64 L422.30,436.13 L421.30,435.59 L420.30,435.02 L419.30,434.42 L418.30,433.79 L417.30,433.12 L416.30,432.44 L415.30,431.74 L414.30,431.03 L413.30,430.30 L412.30,429.58 L411.30,428.86 L410.30,428.14 L409.30,427.44 L408.30,426.75 L407.30,426.08 L406.30,425.44 L405.30,424.83 L404.30,424.25 L403.30,423.70 L402.30,423.18 L401.30,422.69 L400.30,422.23 L399.30,421.80 L398.30,421.39 L397.30,421.01 L396.30,420.66 L395.30,420.33 L394.30,420.03 L393.30,419.76 L392.30,419.51 L391.30,419.28 L390.30,419.08 L389.30,418.90 L388.30,418.74 L387.30,418.61 L386.30,418.50 L385.30,418.40 Z" fill="#000" fill-opacity="0.2" stroke="none"/>
<path d="M385.30,387.44 L386.30,388.76 L387.30,390.07 L388.30,391.37 L389.30,392.65 L390.30,393.92 L391.30,395.17 L392.30,396.41 L393.30,397.63 L394.30,398.83 L395.30,400.02 L396.30,401.19 L397.30,402.34 L398.30,403.47 L399.30,404.58 L400.30,405.67 L401.30,406.74 L402.30,407.78 L403.30,408.81 L404.30,409.81 L405.30,410.79 L406.30,411.74 L407.30,412.67 L408.30,413.57 L409.30,414.45 L410.30,415.30 L411.30,416.12 L412.30,416.91 L413.30,417.68 L414.30,418.41 L415.30,419.12 L416.30,419.79 L417.30,420.43 L418.30,421.04 L419.30,421.62 L420.30,422.17 L421.30,422.68 L422.30,423.16 L423.30,423.61 L424.30,424.02 L425.30,424.41 L426.30,424.77 L427.30,425.11 L428.30,425.41 L429.30,425.69 L430.30,425.94 L431.30,426.17 L432.30,426.37 L433.30,426.56 L434.30,426.71 L435.30,426.85 L436.30,426.97 L437.30,427.06 L438.30,427.14 L439.30,427.20 L440.30,427.24 L441.30,427.26 L442.30,427.27 L443.30,427.26 L444.30,427.24 L445.30,427.21 L446.30,427.16 L447.30,427.10 L448.30,427.03 L449.30,426.94 L450.30,426.85 L451.30,426.75 L452.30,426.64 L453.30,426.52 L454.30,426.40 L455.30,426.27 L456.30,426.14 L457.30,426.00 L458.30,425.86 L459.30,425.71 L460.30,425.57 L461.30,425.42 L462.30,425.27 L463.30,425.12 L464.30,424.97 L465.30,424.82 L466.30,424.66 L467.30,424.51 L468.30,424.35 L469.30,424.19 L470.30,424.03 L471.30,423.87 L472.30,423.71 L473.30,423.54 L474.30,423.37 L475.30,423.21 L476.30,423.04 L477.30,422.87 L478.30,422.70 L479.30,422.52 L480.30,422.35 L481.30,422.17 L482.30,422.00 L483.30,421.82 L484.30,421.64 L485.30,421.46 L486.30,421.27 L487.30,421.09 L488.30,420.90 L489.30,420.72 L490.30,420.53 L491.30,420.34 L492.30,420.15 L493.30,419.96 L494.30,419.76 L495.30,419.57 L496.30,419.37 L497.30,419.18 L498.30,418.98 L499.30,418.78 L500.30,418.58 L501.30,418.38 L502.30,418.17 L503.30,417.97 L504.30,417.76 L505.30,417.55 L506.30,417.35 L507.30,417.14 L508.30,416.93 L509.30,416.71 L510.30,416.50 L511.30,416.28 L512.30,416.07 L513.30,415.85 L514.30,415.63 L515.30,415.41 L516.30,415.19 L517.30,414.97 L518.30,414.75 L519.30,414.52 L520.30,414.30 L521.30,414.07 L522.30,413.84 L523.30,413.62 L524.30,413.39 L525.30,413.15 L526.30,412.92 L527.30,412.69 L528.30,412.45 L529.30,412.22 L530.30,411.98 L531.30,411.74 L532.30,411.50 L533.30,411.26 L534.30,411.02 L535.30,410.78 L536.30,410.54 L537.30,410.29 L538.30,410.05 L539.30,409.80 L540.30,409.55 L541.30,409.30 L542.30,409.05 L543.30,408.80 L544.30,408.55 L545.30,408.30 L546.30,408.04 L547.30,407.79 L548.30,407.53 L549.30,407.28 L550.30,407.02 L551.30,406.76 L552.30,406.50 L553.30,406.24 L554.30,405.98 L555.30,405.71 L556.30,405.45 L557.30,405.19 L558.30,404.93 L559.30,404.66 L560.30,404.40 L561.30,404.13 L562.30,403.87 L563.30,403.60 L564.30,403.33 L565.30,403.07 L566.30,402.80 L567.30,402.54 L568.30,402.27 L569.30,402.00 L570.30,401.74 L571.30,401.47 L572.30,401.21 L573.30,400.94 L574.30,400.68 L575.30,400.41 L576.30,400.15 L577.30,399.88 L578.30,399.62 L579.30,399.36 L580.30,399.09 L581.30,398.83 L582.30,398.57 L583.30,398.31 L584.30,398.05 L585.30,397.79 L586.30,397.54 L587.30,397.28 L588.30,397.02 L589.30,396.77 L590.30,396.51 L591.30,396.26 L592.30,396.01 L593.30,395.76 L594.30,395.51 L595.30,395.27 L596.30,395.02 L597.30,394.77 L598.30,394.53 L599.30,394.29 L600.30,394.05 L601.30,393.81 L602.30,393.58 L603.30,393.34 L604.30,393.11 L605.30,392.88 L606.30,392.65 L607.30,392.42 L608.30,392.20 L609.30,391.98 L610.30,391.75 L611.30,391.54 L612.30,391.32 L613.30,391.11 L614.30,390.89 L615.30,390.69 L616.30,390.48 L617.30,390.27 L618.30,390.07 L619.30,389.87 L620.30,389.68 L621.30,389.48 L622.30,389.29 L623.30,389.10 L624.30,388.92 L625.30,388.74 L626.30,388.56 L627.30,388.38 L628.30,388.21 L629.30,388.04 L630.30,387.87 L631.30,387.70 L632.00,387.59" fill="none" stroke="#2e2e2e" stroke-width="1.15" stroke-linejoin="round"/>
<line x1="370.80" x2="684.70" y1="387.30" y2="387.30" stroke="#f23a46" stroke-width="1.1" stroke-dasharray="3.2 2.98" stroke-dashoffset="0.00"/>
</g>
<text transform="translate(367.90,461.23) scale(0.920,1.070)" font-size="7.00" fill="#4d4d4d" stroke="#4d4d4d" text-anchor="end">0.4</text>
<text transform="translate(367.90,413.71) scale(0.920,1.070)" font-size="7.00" fill="#4d4d4d" stroke="#4d4d4d" text-anchor="end">0.8</text>
<text transform="translate(367.90,366.19) scale(0.920,1.070)" font-size="7.00" fill="#4d4d4d" stroke="#4d4d4d" text-anchor="end">1.2</text>
<text transform="translate(367.90,318.67) scale(0.920,1.070)" font-size="7.00" fill="#4d4d4d" stroke="#4d4d4d" text-anchor="end">1.6</text>
<text transform="translate(385.35,476.20) scale(0.870,1.070)" font-size="7.00" fill="#4d4d4d" stroke="#4d4d4d" text-anchor="middle">0</text>
<text transform="translate(432.85,476.20) scale(0.870,1.070)" font-size="7.00" fill="#4d4d4d" stroke="#4d4d4d" text-anchor="middle">5</text>
<text transform="translate(480.35,476.20) scale(0.870,1.070)" font-size="7.00" fill="#4d4d4d" stroke="#4d4d4d" text-anchor="middle">10</text>
<text transform="translate(527.85,476.20) scale(0.870,1.070)" font-size="7.00" fill="#4d4d4d" stroke="#4d4d4d" text-anchor="middle">15</text>
<text transform="translate(575.35,476.20) scale(0.870,1.070)" font-size="7.00" fill="#4d4d4d" stroke="#4d4d4d" text-anchor="middle">20</text>
<text transform="translate(622.85,476.20) scale(0.870,1.070)" font-size="7.00" fill="#4d4d4d" stroke="#4d4d4d" text-anchor="middle">25</text>
<text transform="translate(670.35,476.20) scale(0.870,1.070)" font-size="7.00" fill="#4d4d4d" stroke="#4d4d4d" text-anchor="middle">30</text>
<text transform="translate(453.90,485.10) scale(0.995,1.080)" font-size="8.00" fill="#000" stroke="#000" text-anchor="start" style="white-space:pre">Post-TAVI  invasive mean gradient [mmHg]</text>
<text transform="translate(355.30,375.40) rotate(-90) scale(1.020,1.120)" font-size="7.80" fill="#000" stroke="#000" text-anchor="middle">Relative Hazard</text>
<text transform="translate(654.15,338.80) scale(1.050,1.080)" font-size="9.60" fill="#000" stroke="none" text-anchor="middle" font-weight="bold" style="white-space:pre">p =  0.023</text>
<text x="344.30" y="286.60" font-size="10" font-weight="bold" fill="#000" stroke="#000">D</text>
<g><line x1="370.80" x2="684.70" y1="508.60" y2="508.60" stroke="#ebebeb" stroke-width="1.1"/><line x1="385.35" x2="385.35" y1="503.80" y2="513.40" stroke="#ebebeb" stroke-width="1.10"/><line x1="409.10" x2="409.10" y1="503.80" y2="513.40" stroke="#ebebeb" stroke-width="0.60"/><line x1="432.85" x2="432.85" y1="503.80" y2="513.40" stroke="#ebebeb" stroke-width="1.10"/><line x1="456.60" x2="456.60" y1="503.80" y2="513.40" stroke="#ebebeb" stroke-width="0.60"/><line x1="480.35" x2="480.35" y1="503.80" y2="513.40" stroke="#ebebeb" stroke-width="1.10"/><line x1="504.10" x2="504.10" y1="503.80" y2="513.40" stroke="#ebebeb" stroke-width="0.60"/><line x1="527.85" x2="527.85" y1="503.80" y2="513.40" stroke="#ebebeb" stroke-width="1.10"/><line x1="551.60" x2="551.60" y1="503.80" y2="513.40" stroke="#ebebeb" stroke-width="0.60"/><line x1="575.35" x2="575.35" y1="503.80" y2="513.40" stroke="#ebebeb" stroke-width="1.10"/><line x1="599.10" x2="599.10" y1="503.80" y2="513.40" stroke="#ebebeb" stroke-width="0.60"/><line x1="622.85" x2="622.85" y1="503.80" y2="513.40" stroke="#ebebeb" stroke-width="1.10"/><line x1="646.60" x2="646.60" y1="503.80" y2="513.40" stroke="#ebebeb" stroke-width="0.60"/><line x1="670.35" x2="670.35" y1="503.80" y2="513.40" stroke="#ebebeb" stroke-width="1.10"/></g>
<line x1="385.35" x2="404.35" y1="508.60" y2="508.60" stroke="#383838" stroke-width="1.1"/>
<line x1="451.85" x2="518.35" y1="508.60" y2="508.60" stroke="#383838" stroke-width="1.1"/>
<rect x="404.35" y="505.80" width="47.50" height="5.80" fill="#fff" stroke="#383838" stroke-width="1.1"/>
<line x1="423.35" x2="423.35" y1="505.80" y2="511.60" stroke="#333" stroke-width="2"/>
<circle cx="527.85" cy="508.60" r="1.9" fill="#000"/>
<circle cx="537.35" cy="508.60" r="1.9" fill="#000"/>
<circle cx="565.85" cy="508.60" r="1.9" fill="#000"/>
<circle cx="613.35" cy="508.60" r="1.9" fill="#000"/>
<circle cx="632.35" cy="508.60" r="1.9" fill="#000"/>
<circle cx="641.85" cy="508.60" r="1.9" fill="#000"/>
<circle cx="660.85" cy="508.60" r="1.9" fill="#000"/>
<text transform="translate(385.35,522.30) scale(0.870,1.070)" font-size="7.00" fill="#4d4d4d" stroke="#4d4d4d" text-anchor="middle">0</text>
<text transform="translate(432.85,522.30) scale(0.870,1.070)" font-size="7.00" fill="#4d4d4d" stroke="#4d4d4d" text-anchor="middle">5</text>
<text transform="translate(480.35,522.30) scale(0.870,1.070)" font-size="7.00" fill="#4d4d4d" stroke="#4d4d4d" text-anchor="middle">10</text>
<text transform="translate(527.85,522.30) scale(0.870,1.070)" font-size="7.00" fill="#4d4d4d" stroke="#4d4d4d" text-anchor="middle">15</text>
<text transform="translate(575.35,522.30) scale(0.870,1.070)" font-size="7.00" fill="#4d4d4d" stroke="#4d4d4d" text-anchor="middle">20</text>
<text transform="translate(622.85,522.30) scale(0.870,1.070)" font-size="7.00" fill="#4d4d4d" stroke="#4d4d4d" text-anchor="middle">25</text>
<text transform="translate(670.35,522.30) scale(0.870,1.070)" font-size="7.00" fill="#4d4d4d" stroke="#4d4d4d" text-anchor="middle">30</text>
<text x="682.50" y="495.40" font-size="6.4" fill="#1a1a1a" stroke="#1a1a1a" text-anchor="end">Adjusted to:age=82.7 lvef=58</text>
</svg>
</body></html>
